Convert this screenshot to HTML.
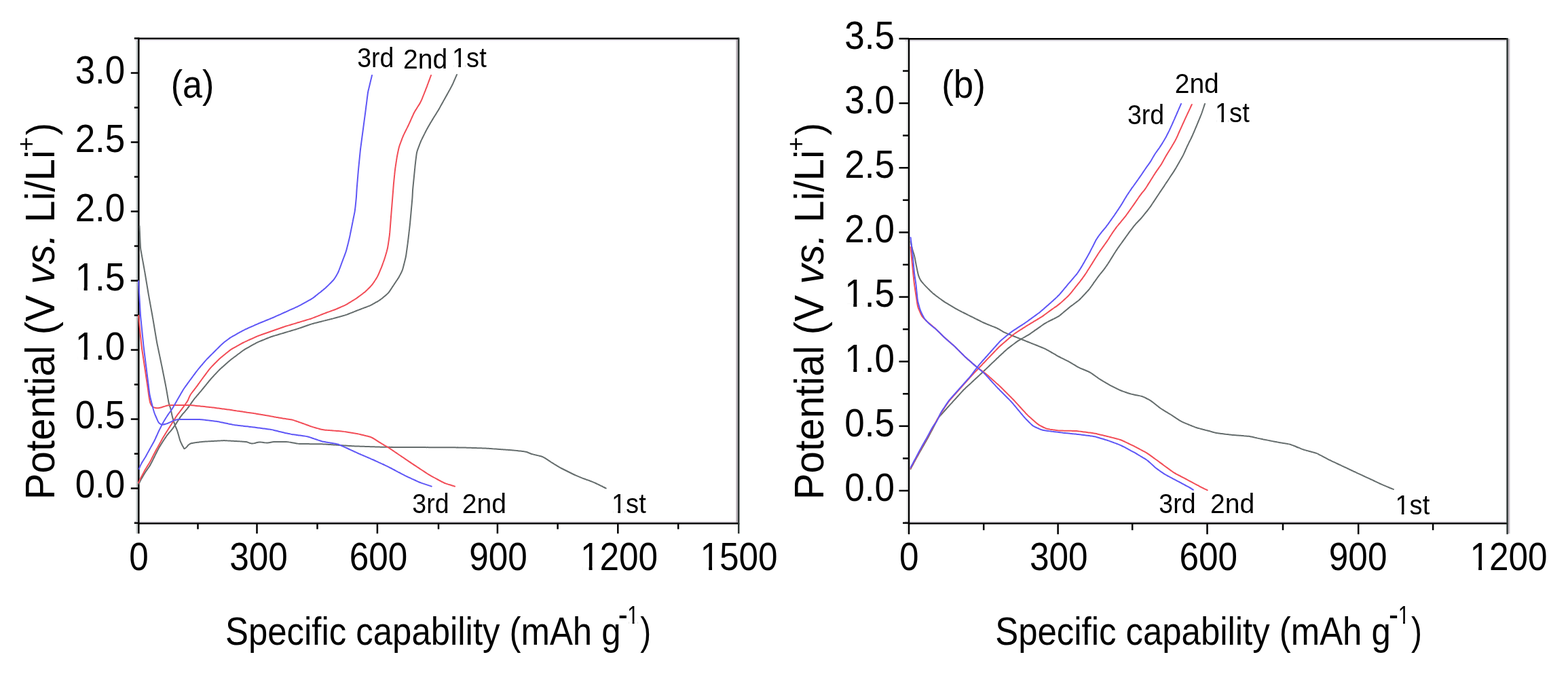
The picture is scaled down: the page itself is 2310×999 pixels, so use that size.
<!DOCTYPE html>
<html><head><meta charset="utf-8"><title>Potential vs specific capability</title>
<style>html,body{margin:0;padding:0;background:#fff;}svg{display:block;}text{font-family:'Liberation Sans', Arial, sans-serif;fill:#000;}</style>
</head><body>
<svg width="2310" height="999" viewBox="0 0 2310 999">
<rect width="2310" height="999" fill="#fff"/>
<line x1="201.7" y1="58" x2="201.7" y2="786.2" stroke="#c4caca" stroke-width="2.4"/>
<line x1="198.3" y1="59.2" x2="1086.8" y2="59.2" stroke="#dcd8e0" stroke-width="1.6"/>
<line x1="198.3" y1="768.8" x2="1086.8" y2="768.8" stroke="#d8d4dc" stroke-width="1.8"/>
<line x1="1085.6" y1="58" x2="1085.6" y2="770" stroke="#b4acb4" stroke-width="2.4"/>
<line x1="204.3" y1="56.8" x2="1088.2" y2="56.8" stroke="#000" stroke-width="2.5"/>
<line x1="204.3" y1="771.2" x2="1088.2" y2="771.2" stroke="#000" stroke-width="2.5"/>
<line x1="204.3" y1="55.6" x2="204.3" y2="772.4" stroke="#000" stroke-width="2.5"/>
<line x1="1088.2" y1="55.6" x2="1088.2" y2="772.4" stroke="#2c3432" stroke-width="2.5"/>
<line x1="197.8" y1="770.608" x2="204.3" y2="770.608" stroke="#000" stroke-width="2.5"/>
<line x1="192.8" y1="719.6" x2="204.3" y2="719.6" stroke="#000" stroke-width="2.5"/>
<line x1="197.8" y1="668.592" x2="204.3" y2="668.592" stroke="#000" stroke-width="2.5"/>
<line x1="192.8" y1="617.585" x2="204.3" y2="617.585" stroke="#000" stroke-width="2.5"/>
<line x1="197.8" y1="566.577" x2="204.3" y2="566.577" stroke="#000" stroke-width="2.5"/>
<line x1="192.8" y1="515.57" x2="204.3" y2="515.57" stroke="#000" stroke-width="2.5"/>
<line x1="197.8" y1="464.562" x2="204.3" y2="464.562" stroke="#000" stroke-width="2.5"/>
<line x1="192.8" y1="413.555" x2="204.3" y2="413.555" stroke="#000" stroke-width="2.5"/>
<line x1="197.8" y1="362.548" x2="204.3" y2="362.548" stroke="#000" stroke-width="2.5"/>
<line x1="192.8" y1="311.54" x2="204.3" y2="311.54" stroke="#000" stroke-width="2.5"/>
<line x1="197.8" y1="260.533" x2="204.3" y2="260.533" stroke="#000" stroke-width="2.5"/>
<line x1="192.8" y1="209.525" x2="204.3" y2="209.525" stroke="#000" stroke-width="2.5"/>
<line x1="197.8" y1="158.518" x2="204.3" y2="158.518" stroke="#000" stroke-width="2.5"/>
<line x1="192.8" y1="107.51" x2="204.3" y2="107.51" stroke="#000" stroke-width="2.5"/>
<line x1="197.8" y1="56.5025" x2="204.3" y2="56.5025" stroke="#000" stroke-width="2.5"/>
<line x1="204.3" y1="771.2" x2="204.3" y2="786.2" stroke="#000" stroke-width="2.5"/>
<line x1="291.5" y1="771.2" x2="291.5" y2="779.7" stroke="#000" stroke-width="2.5"/>
<line x1="378.5" y1="771.2" x2="378.5" y2="786.2" stroke="#000" stroke-width="2.5"/>
<line x1="467.5" y1="771.2" x2="467.5" y2="779.7" stroke="#000" stroke-width="2.5"/>
<line x1="555.9" y1="771.2" x2="555.9" y2="786.2" stroke="#000" stroke-width="2.5"/>
<line x1="646" y1="771.2" x2="646" y2="779.7" stroke="#000" stroke-width="2.5"/>
<line x1="732.9" y1="771.2" x2="732.9" y2="786.2" stroke="#000" stroke-width="2.5"/>
<line x1="821.6" y1="771.2" x2="821.6" y2="779.7" stroke="#000" stroke-width="2.5"/>
<line x1="910.3" y1="771.2" x2="910.3" y2="786.2" stroke="#000" stroke-width="2.5"/>
<line x1="999.2" y1="771.2" x2="999.2" y2="779.7" stroke="#000" stroke-width="2.5"/>
<line x1="1088.2" y1="771.2" x2="1088.2" y2="786.2" stroke="#2c3432" stroke-width="2.5"/>
<line x1="1336.4" y1="58.4" x2="1336.4" y2="786.2" stroke="#eef0ee" stroke-width="2.4"/>
<line x1="1333" y1="59.6" x2="2219.2" y2="59.6" stroke="#dcd8e0" stroke-width="1.6"/>
<line x1="1333" y1="768.8" x2="2219.2" y2="768.8" stroke="#d8d4dc" stroke-width="1.8"/>
<line x1="2223.2" y1="57.2" x2="2223.2" y2="786.2" stroke="#c4bcc4" stroke-width="2.4"/>
<line x1="1339" y1="57.2" x2="2220.6" y2="57.2" stroke="#000" stroke-width="2.5"/>
<line x1="1339" y1="771.2" x2="2220.6" y2="771.2" stroke="#000" stroke-width="2.5"/>
<line x1="1339" y1="56" x2="1339" y2="772.4" stroke="#000" stroke-width="2.5"/>
<line x1="2220.6" y1="56" x2="2220.6" y2="772.4" stroke="#2c3432" stroke-width="2.5"/>
<line x1="1330" y1="770.575" x2="1339" y2="770.575" stroke="#000" stroke-width="2.5"/>
<line x1="1324.5" y1="723" x2="1339" y2="723" stroke="#000" stroke-width="2.5"/>
<line x1="1330" y1="675.425" x2="1339" y2="675.425" stroke="#000" stroke-width="2.5"/>
<line x1="1324.5" y1="627.85" x2="1339" y2="627.85" stroke="#000" stroke-width="2.5"/>
<line x1="1330" y1="580.275" x2="1339" y2="580.275" stroke="#000" stroke-width="2.5"/>
<line x1="1324.5" y1="532.7" x2="1339" y2="532.7" stroke="#000" stroke-width="2.5"/>
<line x1="1330" y1="485.125" x2="1339" y2="485.125" stroke="#000" stroke-width="2.5"/>
<line x1="1324.5" y1="437.55" x2="1339" y2="437.55" stroke="#000" stroke-width="2.5"/>
<line x1="1330" y1="389.975" x2="1339" y2="389.975" stroke="#000" stroke-width="2.5"/>
<line x1="1324.5" y1="342.4" x2="1339" y2="342.4" stroke="#000" stroke-width="2.5"/>
<line x1="1330" y1="294.825" x2="1339" y2="294.825" stroke="#000" stroke-width="2.5"/>
<line x1="1324.5" y1="247.25" x2="1339" y2="247.25" stroke="#000" stroke-width="2.5"/>
<line x1="1330" y1="199.675" x2="1339" y2="199.675" stroke="#000" stroke-width="2.5"/>
<line x1="1324.5" y1="152.1" x2="1339" y2="152.1" stroke="#000" stroke-width="2.5"/>
<line x1="1330" y1="104.525" x2="1339" y2="104.525" stroke="#000" stroke-width="2.5"/>
<line x1="1324.5" y1="56.95" x2="1339" y2="56.95" stroke="#000" stroke-width="2.5"/>
<line x1="1339" y1="771.2" x2="1339" y2="787.2" stroke="#000" stroke-width="2.5"/>
<line x1="1449.2" y1="771.2" x2="1449.2" y2="781.2" stroke="#000" stroke-width="2.5"/>
<line x1="1558.6" y1="771.2" x2="1558.6" y2="787.2" stroke="#000" stroke-width="2.5"/>
<line x1="1668.2" y1="771.2" x2="1668.2" y2="781.2" stroke="#000" stroke-width="2.5"/>
<line x1="1778.5" y1="771.2" x2="1778.5" y2="787.2" stroke="#000" stroke-width="2.5"/>
<line x1="1890" y1="771.2" x2="1890" y2="781.2" stroke="#000" stroke-width="2.5"/>
<line x1="2001.2" y1="771.2" x2="2001.2" y2="787.2" stroke="#000" stroke-width="2.5"/>
<line x1="2111.1" y1="771.2" x2="2111.1" y2="781.2" stroke="#000" stroke-width="2.5"/>
<line x1="2220.6" y1="771.2" x2="2220.6" y2="787.2" stroke="#2c3432" stroke-width="2.5"/>
<path d="M205.5,333 C205.5,333.5 205.6,335.0 205.636,336 C205.7,337.0 205.7,338.0 205.773,339 C205.8,340.0 205.9,341.0 205.909,342 C206.0,343.0 206.0,344.0 206.045,345 C206.1,346.0 206.1,347.0 206.182,348 C206.2,349.0 206.3,350.0 206.318,351 C206.4,352.0 206.4,353.0 206.455,354 C206.5,355.0 206.5,356.0 206.591,357 C206.6,358.0 206.7,359.0 206.728,360 C206.8,361.0 206.8,362.0 206.88,363 C206.9,364.0 207.0,365.0 207.131,366 C207.2,367.0 207.4,368.0 207.562,369 C207.7,370.0 207.9,371.0 208.091,372 C208.3,373.0 208.5,374.0 208.636,375 C208.8,376.0 209.0,377.0 209.182,378 C209.4,379.0 209.5,380.0 209.727,381 C209.9,382.0 210.1,383.0 210.273,384 C210.5,385.0 210.6,386.0 210.818,387 C211.0,388.0 211.2,389.0 211.364,390 C211.5,391.0 211.7,392.0 211.909,393 C212.1,394.0 212.3,395.0 212.453,396 C212.6,397.0 212.8,398.0 212.985,399 C213.2,400.0 213.3,401.0 213.498,402 C213.7,403.0 213.8,404.0 214,405 C214.2,406.0 214.3,407.0 214.5,408 C214.7,409.0 214.8,410.0 215,411 C215.2,412.0 215.3,413.0 215.5,414 C215.7,415.0 215.8,416.0 216,417 C216.2,418.0 216.3,419.0 216.5,420 C216.7,421.0 216.8,422.0 217,423 C217.2,424.0 217.3,425.0 217.5,426 C217.7,427.0 217.8,428.0 218,429 C218.2,430.0 218.3,431.0 218.502,432 C218.7,433.0 218.8,434.0 219.015,435 C219.2,436.0 219.4,437.0 219.547,438 C219.7,439.0 219.9,440.0 220.091,441 C220.3,442.0 220.5,443.0 220.636,444 C220.8,445.0 221.0,446.0 221.182,447 C221.4,448.0 221.5,449.0 221.727,450 C221.9,451.0 222.1,452.0 222.273,453 C222.5,454.0 222.6,455.0 222.818,456 C223.0,457.0 223.2,458.0 223.364,459 C223.5,460.0 223.7,461.0 223.909,462 C224.1,463.0 224.3,464.0 224.453,465 C224.6,466.0 224.8,467.0 224.985,468 C225.2,469.0 225.3,470.0 225.498,471 C225.7,472.0 225.8,473.0 226,474 C226.2,475.0 226.3,476.0 226.5,477 C226.7,478.0 226.8,479.0 227,480 C227.2,481.0 227.3,482.0 227.5,483 C227.7,484.0 227.8,485.0 228,486 C228.2,487.0 228.3,488.0 228.5,489 C228.7,490.0 228.8,491.0 229,492 C229.2,493.0 229.3,494.0 229.5,495 C229.7,496.0 229.8,497.0 230,498 C230.2,499.0 230.3,500.0 230.505,501 C230.7,502.0 230.9,503.0 231.04,504 C231.2,505.0 231.4,506.0 231.63,507 C231.8,508.0 232.0,509.0 232.25,510 C232.5,511.0 232.7,512.0 232.875,513 C233.1,514.0 233.3,515.0 233.5,516 C233.7,517.0 233.9,518.0 234.125,519 C234.3,520.0 234.5,521.0 234.75,522 C235.0,523.0 235.2,524.0 235.375,525 C235.6,526.0 235.8,527.0 236,528 C236.2,529.0 236.4,530.0 236.625,531 C236.8,532.0 237.0,533.0 237.25,534 C237.5,535.0 237.7,536.0 237.874,537 C238.1,538.0 238.3,539.0 238.492,540 C238.7,541.0 238.9,542.0 239.099,543 C239.3,544.0 239.5,545.0 239.7,546 C239.9,547.0 240.1,548.0 240.3,549 C240.5,550.0 240.7,551.0 240.9,552 C241.1,553.0 241.3,554.0 241.5,555 C241.7,556.0 241.9,557.0 242.1,558 C242.3,559.0 242.5,560.0 242.7,561 C242.9,562.0 243.1,563.0 243.3,564 C243.5,565.0 243.7,566.0 243.897,567.002 C244.1,568.0 244.3,569.0 244.477,570.019 C244.7,571.0 244.8,572.0 245.027,573.061 C245.2,574.1 245.4,575.1 245.559,576.118 C245.7,577.1 245.9,578.2 246.088,579.176 C246.3,580.2 246.4,581.2 246.618,582.235 C246.8,583.3 247.0,584.3 247.147,585.294 C247.3,586.3 247.5,587.3 247.676,588.353 C247.9,589.4 248.0,590.4 248.22,591.421 C248.4,592.5 248.6,593.5 248.916,594.587 C249.2,595.7 249.6,596.9 250.016,598.025 C250.4,599.2 250.8,600.4 251.162,601.535 C251.5,602.7 251.7,603.8 251.962,604.868 C252.2,606.0 252.4,607.0 252.627,608.122 C252.9,609.2 253.1,610.3 253.303,611.328 C253.5,612.4 253.8,613.4 254.062,614.397 C254.3,615.4 254.6,616.4 254.902,617.33 C255.2,618.3 255.5,619.3 255.767,620.222 C256.1,621.2 256.3,622.1 256.651,623.116 C257.0,624.1 257.3,625.1 257.639,626.036 C258.0,627.0 258.4,628.0 258.817,629.004 C259.2,630.0 259.7,631.0 260.079,631.996 C260.5,633.0 260.9,634.0 261.233,634.968 C261.6,636.0 261.9,636.9 262.159,637.896 C262.4,638.9 262.7,639.8 262.959,640.8 C263.2,641.8 263.5,642.7 263.741,643.7 C264.0,644.7 264.3,645.6 264.549,646.609 C264.8,647.6 265.1,648.6 265.525,649.571 C265.9,650.6 266.3,651.6 266.811,652.624 C267.3,653.6 267.8,654.7 268.296,655.672 C268.8,656.7 269.3,657.6 269.904,658.543 C270.5,659.5 270.8,661.2 271.625,661.2 C272.5,661.2 274.1,659.5 275.009,658.6 C275.9,657.7 276.4,656.8 277.147,656.089 C277.9,655.3 278.8,654.6 279.732,654.095 C280.6,653.6 281.6,653.3 282.598,653.053 C283.6,652.8 284.6,652.7 285.564,652.53 C286.6,652.4 287.6,652.2 288.545,652.091 C289.5,651.9 290.5,651.8 291.528,651.657 C292.5,651.5 293.5,651.4 294.523,651.252 C295.5,651.1 296.5,651.0 297.56,650.942 C298.6,650.9 299.6,650.8 300.637,650.73 C301.7,650.7 302.7,650.6 303.727,650.545 C304.8,650.5 305.8,650.4 306.818,650.364 C307.8,650.3 308.9,650.2 309.909,650.182 C310.9,650.1 312.0,650.1 313,650 C314.0,649.9 315.1,649.9 316.091,649.818 C317.1,649.8 318.2,649.7 319.182,649.636 C320.2,649.6 321.2,649.5 322.273,649.455 C323.3,649.4 324.3,649.3 325.364,649.276 C326.4,649.2 327.4,649.2 328.455,649.139 C329.5,649.1 330.5,649.1 331.545,649.139 C332.6,649.2 333.6,649.2 334.636,649.276 C335.7,649.3 336.7,649.4 337.727,649.455 C338.8,649.5 339.8,649.6 340.818,649.636 C341.8,649.7 342.9,649.8 343.909,649.818 C344.9,649.9 346.0,649.9 347,650 C348.0,650.1 349.1,650.1 350.091,650.182 C351.1,650.2 352.2,650.3 353.182,650.364 C354.2,650.4 355.2,650.5 356.273,650.545 C357.3,650.6 358.3,650.7 359.363,650.74 C360.4,650.8 361.4,650.9 362.443,651.082 C363.5,651.3 364.5,651.6 365.497,651.909 C366.5,652.2 367.5,652.8 368.621,653.051 C369.7,653.3 370.9,653.6 372,653.606 C373.1,653.6 374.3,653.3 375.38,653.057 C376.5,652.8 377.5,652.3 378.517,651.985 C379.6,651.7 380.6,651.5 381.626,651.449 C382.7,651.4 383.7,651.5 384.802,651.618 C385.9,651.7 386.9,651.9 388,652 C389.1,652.1 390.1,652.3 391.208,652.377 C392.3,652.5 393.4,652.6 394.496,652.504 C395.6,652.4 396.8,652.2 397.974,651.948 C399.1,651.7 400.3,651.4 401.376,651.24 C402.5,651.1 403.5,651.1 404.491,651.019 C405.5,651.0 406.5,651.0 407.5,651 C408.5,651.0 409.5,651.0 410.5,651 C411.5,651.0 412.5,651.0 413.5,651 C414.5,651.0 415.5,651.0 416.5,651 C417.5,651.0 418.5,651.0 419.502,651.006 C420.5,651.0 421.5,651.0 422.526,651.079 C423.5,651.1 424.6,651.2 425.626,651.379 C426.7,651.5 427.7,651.7 428.802,651.906 C429.9,652.1 430.9,652.3 432,652.5 C433.1,652.7 434.1,652.9 435.199,653.095 C436.3,653.3 437.3,653.5 438.379,653.625 C439.4,653.8 440.5,653.9 441.501,653.938 C442.5,654.0 443.5,654.0 444.564,654.034 C445.6,654.1 446.6,654.1 447.609,654.065 C448.6,654.1 449.6,654.1 450.652,654.091 C451.7,654.1 452.7,654.1 453.696,654.117 C454.7,654.1 455.7,654.1 456.739,654.143 C457.8,654.2 458.8,654.2 459.783,654.17 C460.8,654.2 461.8,654.2 462.826,654.196 C463.8,654.2 464.9,654.2 465.87,654.222 C466.9,654.2 467.9,654.2 468.913,654.248 C469.9,654.3 470.9,654.3 471.955,654.281 C473.0,654.3 474.0,654.3 474.986,654.356 C476.0,654.4 477.0,654.4 477.998,654.507 C479.0,654.6 480.0,654.6 481,654.7 C482.0,654.8 483.0,654.8 484,654.9 C485.0,655.0 486.0,655.0 487,655.1 C488.0,655.2 489.0,655.2 490,655.3 C491.0,655.4 492.0,655.4 493,655.5 C494.0,655.6 495.0,655.6 496,655.7 C497.0,655.8 498.0,655.8 499,655.9 C500.0,656.0 501.0,656.0 502,656.1 C503.0,656.2 504.0,656.2 505,656.3 C506.0,656.4 507.0,656.4 508,656.5 C509.0,656.6 510.0,656.6 511,656.7 C512.0,656.8 513.0,656.8 514,656.9 C515.0,657.0 516.0,657.0 517,657.096 C518.0,657.2 519.0,657.2 520,657.268 C521.0,657.3 522.0,657.4 523,657.396 C524.0,657.4 525.0,657.5 526,657.5 C527.0,657.5 528.0,657.6 529,657.6 C530.0,657.6 531.0,657.7 532,657.7 C533.0,657.7 534.0,657.8 535,657.8 C536.0,657.8 537.0,657.9 538,657.9 C539.0,657.9 540.0,658.0 541,658 C542.0,658.0 543.0,658.1 544,658.1 C545.0,658.1 546.0,658.2 547,658.2 C548.0,658.2 549.0,658.3 550,658.3 C551.0,658.3 552.0,658.4 553,658.4 C554.0,658.4 555.0,658.5 556,658.5 C557.0,658.5 558.0,658.6 559,658.6 C560.0,658.6 561.0,658.7 562.001,658.697 C563.0,658.7 564.0,658.8 565.008,658.773 C566.0,658.8 567.0,658.8 568.027,658.812 C569.0,658.8 570.0,658.8 571.053,658.831 C572.1,658.8 573.1,658.8 574.079,658.847 C575.1,658.9 576.1,658.9 577.105,658.863 C578.1,658.9 579.1,658.9 580.132,658.879 C581.1,658.9 582.1,658.9 583.158,658.895 C584.2,658.9 585.2,658.9 586.184,658.911 C587.2,658.9 588.2,658.9 589.211,658.926 C590.2,658.9 591.2,658.9 592.237,658.942 C593.2,658.9 594.3,659.0 595.263,658.958 C596.3,659.0 597.3,659.0 598.289,658.974 C599.3,659.0 600.3,659.0 601.316,658.989 C602.3,659.0 603.3,659.0 604.342,659.005 C605.4,659.0 606.4,659.0 607.368,659.021 C608.4,659.0 609.4,659.0 610.395,659.037 C611.4,659.0 612.4,659.0 613.421,659.053 C614.4,659.1 615.4,659.1 616.447,659.068 C617.5,659.1 618.5,659.1 619.474,659.084 C620.5,659.1 621.5,659.1 622.5,659.1 C623.5,659.1 624.5,659.1 625.526,659.116 C626.5,659.1 627.5,659.1 628.553,659.132 C629.6,659.1 630.6,659.1 631.579,659.147 C632.6,659.2 633.6,659.2 634.605,659.163 C635.6,659.2 636.6,659.2 637.632,659.179 C638.6,659.2 639.6,659.2 640.658,659.195 C641.7,659.2 642.7,659.2 643.684,659.211 C644.7,659.2 645.7,659.2 646.711,659.226 C647.7,659.2 648.7,659.2 649.737,659.242 C650.7,659.2 651.8,659.3 652.763,659.258 C653.8,659.3 654.8,659.3 655.789,659.274 C656.8,659.3 657.8,659.3 658.816,659.289 C659.8,659.3 660.8,659.3 661.842,659.305 C662.9,659.3 663.9,659.3 664.868,659.321 C665.9,659.3 666.9,659.3 667.895,659.337 C668.9,659.3 669.9,659.3 670.921,659.353 C671.9,659.4 672.9,659.4 673.947,659.369 C675.0,659.4 676.0,659.4 676.976,659.388 C678.0,659.4 679.0,659.4 680.018,659.427 C681.0,659.4 682.1,659.5 683.086,659.503 C684.1,659.5 685.1,659.6 686.167,659.6 C687.2,659.6 688.2,659.7 689.25,659.7 C690.3,659.7 691.3,659.8 692.333,659.8 C693.4,659.8 694.4,659.9 695.417,659.9 C696.4,659.9 697.5,660.0 698.5,660 C699.5,660.0 700.6,660.1 701.583,660.1 C702.6,660.1 703.6,660.2 704.667,660.2 C705.7,660.2 706.7,660.3 707.75,660.3 C708.8,660.3 709.8,660.4 710.833,660.4 C711.9,660.4 712.9,660.5 713.916,660.505 C714.9,660.5 716.0,660.6 716.998,660.64 C718.0,660.7 719.1,660.8 720.077,660.828 C721.1,660.9 722.1,661.0 723.154,661.046 C724.2,661.1 725.2,661.2 726.231,661.269 C727.3,661.3 728.3,661.4 729.308,661.492 C730.3,661.6 731.4,661.6 732.385,661.715 C733.4,661.8 734.4,661.9 735.462,661.938 C736.5,662.0 737.5,662.1 738.538,662.162 C739.6,662.2 740.6,662.3 741.615,662.385 C742.6,662.5 743.7,662.5 744.692,662.608 C745.7,662.7 746.7,662.8 747.769,662.831 C748.8,662.9 749.8,663.0 750.846,663.054 C751.9,663.1 752.9,663.2 753.927,663.283 C755.0,663.4 756.0,663.4 757.029,663.546 C758.1,663.6 759.1,663.8 760.17,663.873 C761.2,664.0 762.3,664.1 763.333,664.234 C764.4,664.4 765.4,664.5 766.5,664.6 C767.6,664.7 768.6,664.8 769.666,664.968 C770.7,665.1 771.8,665.2 772.826,665.38 C773.9,665.6 774.9,665.8 775.946,666.063 C777.0,666.4 778.0,666.8 778.993,667.214 C780.0,667.6 781.0,668.1 782,668.45 C783.0,668.8 784.0,669.1 785,669.384 C786.0,669.7 787.0,669.9 788,670.132 C789.0,670.4 790.0,670.6 791,670.85 C792.0,671.1 793.0,671.3 794,671.568 C795.0,671.8 796.0,672.0 796.986,672.327 C798.0,672.6 798.9,672.9 799.893,673.341 C800.8,673.8 801.7,674.3 802.653,674.821 C803.6,675.4 804.4,676.0 805.333,676.557 C806.2,677.1 807.1,677.7 808,678.332 C808.9,678.9 809.8,679.5 810.667,680.097 C811.6,680.7 812.4,681.3 813.333,681.819 C814.2,682.4 815.1,682.9 816,683.499 C816.9,684.1 817.8,684.6 818.667,685.166 C819.6,685.7 820.4,686.3 821.347,686.826 C822.3,687.4 823.2,687.9 824.107,688.446 C825.1,689.0 826.0,689.5 827.014,689.993 C828.0,690.5 829.0,691.0 830,691.5 C831.0,692.0 832.0,692.5 833,693 C834.0,693.5 835.0,694.0 836,694.5 C837.0,695.0 838.0,695.5 839,696 C840.0,696.5 841.0,697.0 842,697.5 C843.0,698.0 844.0,698.5 845,698.988 C846.0,699.5 847.0,700.0 848,700.404 C849.0,700.9 850.0,701.3 851,701.688 C852.0,702.1 853.0,702.5 854,702.899 C855.0,703.3 856.0,703.7 857,704.094 C858.0,704.5 859.0,704.9 860,705.252 C861.0,705.6 862.0,706.0 863,706.344 C864.0,706.7 865.0,707.0 866,707.4 C867.0,707.8 868.0,708.1 869,708.463 C870.0,708.8 871.0,709.2 872,709.604 C873.0,710.0 874.0,710.4 875,710.888 C876.0,711.3 877.0,711.8 878,712.251 C879.0,712.7 880.0,713.2 880.996,713.63 C882.0,714.1 883.0,714.6 883.968,715.04 C885.0,715.5 885.9,716.0 886.896,716.505 C887.9,717.0 888.8,717.5 889.8,718 C890.8,718.5 892.2,719.2 892.7,719.5" fill="none" stroke="#646c6c" stroke-width="2.0" stroke-linejoin="round" stroke-linecap="round"/>
<path d="M204.5,713 C204.7,712.5 205.4,711.1 205.9,710.2 C206.4,709.3 206.8,708.3 207.328,707.406 C207.8,706.5 208.3,705.6 208.842,704.632 C209.4,703.7 209.9,702.8 210.44,701.875 C211.0,701.0 211.5,700.0 212.065,699.127 C212.6,698.2 213.2,697.3 213.718,696.398 C214.3,695.5 214.9,694.6 215.459,693.738 C216.1,692.9 216.7,692.0 217.287,691.144 C217.9,690.3 218.5,689.4 219.126,688.558 C219.7,687.7 220.3,686.8 220.867,685.898 C221.4,685.0 221.9,684.0 222.427,683.098 C222.9,682.2 223.4,681.2 223.888,680.222 C224.4,679.3 224.9,678.3 225.333,677.333 C225.8,676.4 226.3,675.4 226.778,674.444 C227.3,673.5 227.7,672.5 228.222,671.556 C228.7,670.6 229.2,669.6 229.667,668.667 C230.1,667.7 230.6,666.7 231.111,665.778 C231.6,664.8 232.1,663.8 232.564,662.9 C233.1,662.0 233.6,661.0 234.066,660.085 C234.6,659.2 235.1,658.3 235.658,657.386 C236.2,656.5 236.8,655.6 237.301,654.75 C237.9,653.9 238.4,653.0 238.957,652.121 C239.5,651.2 240.1,650.4 240.657,649.471 C241.2,648.6 241.8,647.7 242.436,646.782 C243.0,645.9 243.6,645.0 244.261,644.074 C244.9,643.2 245.5,642.3 246.134,641.39 C246.8,640.5 247.5,639.6 248.149,638.799 C248.8,638.0 249.6,637.1 250.3,636.301 C251.0,635.5 251.8,634.7 252.451,633.812 C253.1,633.0 253.8,632.1 254.466,631.264 C255.1,630.4 255.7,629.5 256.339,628.656 C257.0,627.8 257.6,626.9 258.164,626.03 C258.8,625.2 259.4,624.3 259.943,623.409 C260.5,622.5 261.1,621.7 261.643,620.801 C262.2,619.9 262.7,619.1 263.3,618.2 C263.9,617.3 264.4,616.5 264.965,615.612 C265.5,614.8 266.1,613.9 266.72,613.093 C267.3,612.3 268.0,611.5 268.638,610.701 C269.3,609.9 270.0,609.2 270.645,608.378 C271.3,607.6 272.0,606.8 272.665,606.063 C273.3,605.3 274.0,604.5 274.669,603.71 C275.3,602.9 276.0,602.1 276.617,601.228 C277.3,600.4 277.9,599.5 278.508,598.615 C279.1,597.7 279.8,596.8 280.382,595.964 C281.0,595.1 281.6,594.2 282.255,593.31 C282.9,592.4 283.5,591.5 284.133,590.668 C284.8,589.8 285.4,588.9 286.041,588.103 C286.7,587.3 287.3,586.5 288.005,585.68 C288.7,584.9 289.3,584.1 290,583.334 C290.7,582.6 291.3,581.8 292,581 C292.7,580.2 293.3,579.4 294,578.666 C294.7,577.9 295.3,577.1 296,576.326 C296.7,575.5 297.3,574.8 298,573.946 C298.7,573.1 299.3,572.3 300,571.493 C300.7,570.7 301.3,569.8 302,569 C302.7,568.2 303.3,567.3 304,566.5 C304.7,565.7 305.3,564.8 306,564 C306.7,563.2 307.3,562.3 308.006,561.508 C308.7,560.7 309.4,559.9 310.049,559.062 C310.7,558.3 311.5,557.5 312.16,556.7 C312.9,555.9 313.6,555.2 314.308,554.385 C315.0,553.6 315.7,552.8 316.462,552.077 C317.2,551.3 317.9,550.5 318.615,549.769 C319.3,549.0 320.0,548.2 320.77,547.464 C321.5,546.7 322.2,545.9 322.94,545.194 C323.7,544.5 324.4,543.7 325.16,543.04 C325.9,542.3 326.7,541.7 327.43,541.003 C328.2,540.3 329.0,539.7 329.714,539 C330.5,538.3 331.2,537.7 332,537 C332.8,536.3 333.5,535.7 334.286,535 C335.0,534.3 335.8,533.7 336.573,533.001 C337.3,532.3 338.1,531.7 338.885,531.016 C339.7,530.4 340.5,529.7 341.278,529.079 C342.1,528.4 342.9,527.8 343.752,527.189 C344.6,526.6 345.4,525.9 346.25,525.312 C347.1,524.7 347.9,524.1 348.75,523.438 C349.6,522.8 350.4,522.2 351.25,521.563 C352.1,520.9 352.9,520.3 353.75,519.687 C354.6,519.1 355.4,518.4 356.252,517.816 C357.1,517.2 357.9,516.6 358.772,515.991 C359.6,515.4 360.5,514.9 361.355,514.32 C362.2,513.8 363.1,513.3 364.002,512.804 C364.9,512.3 365.8,511.8 366.667,511.333 C367.6,510.8 368.4,510.4 369.333,509.867 C370.2,509.4 371.1,508.9 372,508.4 C372.9,507.9 373.8,507.4 374.667,506.934 C375.6,506.4 376.4,506.0 377.341,505.48 C378.2,505.0 379.1,504.5 380.061,504.104 C381.0,503.7 381.9,503.3 382.865,502.87 C383.8,502.5 384.8,502.1 385.715,501.715 C386.7,501.3 387.6,501.0 388.571,500.571 C389.5,500.2 390.5,499.8 391.429,499.429 C392.4,499.0 393.3,498.7 394.286,498.286 C395.2,497.9 396.2,497.5 397.152,497.152 C398.1,496.8 399.1,496.4 400.071,496.071 C401.1,495.7 402.1,495.4 403.086,495.086 C404.1,494.8 405.1,494.5 406.154,494.154 C407.2,493.8 408.2,493.5 409.231,493.231 C410.3,492.9 411.3,492.6 412.308,492.308 C413.3,492.0 414.4,491.7 415.385,491.385 C416.4,491.1 417.4,490.8 418.462,490.462 C419.5,490.2 420.5,489.8 421.538,489.538 C422.6,489.2 423.6,488.9 424.615,488.615 C425.6,488.3 426.7,488.0 427.692,487.692 C428.7,487.4 429.7,487.1 430.769,486.769 C431.8,486.5 432.8,486.2 433.846,485.846 C434.9,485.5 435.9,485.2 436.914,484.92 C437.9,484.6 438.9,484.3 439.929,483.975 C440.9,483.7 441.9,483.3 442.848,482.997 C443.8,482.7 444.8,482.3 445.714,482 C446.7,481.7 447.6,481.3 448.571,481 C449.5,480.7 450.5,480.3 451.429,480 C452.4,479.7 453.3,479.3 454.286,479 C455.2,478.7 456.2,478.3 457.152,478.009 C458.1,477.7 459.1,477.4 460.071,477.074 C461.1,476.8 462.1,476.5 463.086,476.24 C464.1,476.0 465.1,475.7 466.154,475.462 C467.2,475.2 468.2,474.9 469.231,474.692 C470.3,474.4 471.3,474.2 472.308,473.923 C473.3,473.7 474.4,473.4 475.384,473.154 C476.4,472.9 477.4,472.6 478.451,472.387 C479.5,472.1 480.5,471.9 481.49,471.628 C482.5,471.4 483.5,471.1 484.499,470.875 C485.5,470.6 486.5,470.4 487.5,470.124 C488.5,469.9 489.5,469.6 490.5,469.364 C491.5,469.1 492.5,468.8 493.5,468.572 C494.5,468.3 495.5,468.0 496.5,467.749 C497.5,467.5 498.5,467.2 499.5,466.917 C500.5,466.6 501.5,466.4 502.5,466.083 C503.5,465.8 504.5,465.5 505.499,465.247 C506.5,465.0 507.5,464.7 508.481,464.376 C509.5,464.1 510.4,463.7 511.41,463.388 C512.4,463.0 513.3,462.7 514.284,462.283 C515.2,461.9 516.2,461.5 517.143,461.143 C518.1,460.8 519.0,460.4 520,460 C521.0,459.6 521.9,459.2 522.857,458.857 C523.8,458.5 524.8,458.1 525.715,457.715 C526.7,457.3 527.6,457.0 528.578,456.578 C529.5,456.2 530.5,455.8 531.461,455.461 C532.4,455.1 533.4,454.7 534.364,454.364 C535.3,454.0 536.3,453.6 537.273,453.273 C538.2,452.9 539.2,452.5 540.182,452.181 C541.2,451.8 542.1,451.5 543.086,451.07 C544.1,450.7 545.0,450.3 545.965,449.836 C546.9,449.4 547.9,448.9 548.796,448.379 C549.7,447.9 550.7,447.3 551.6,446.799 C552.5,446.3 553.5,445.7 554.399,445.199 C555.3,444.7 556.3,444.1 557.184,443.584 C558.1,443.0 559.0,442.5 559.871,441.871 C560.7,441.3 561.6,440.6 562.384,439.984 C563.2,439.3 564.0,438.7 564.799,437.999 C565.6,437.3 566.4,436.7 567.199,435.999 C568.0,435.3 568.8,434.7 569.574,433.973 C570.3,433.3 571.1,432.6 571.8,431.786 C572.5,431.0 573.1,430.2 573.752,429.306 C574.4,428.5 575.0,427.6 575.555,426.666 C576.2,425.8 576.7,424.9 577.333,424 C577.9,423.1 578.5,422.2 579.111,421.333 C579.7,420.4 580.3,419.6 580.889,418.667 C581.5,417.8 582.1,416.9 582.667,416 C583.3,415.1 583.9,414.2 584.444,413.333 C585.0,412.4 585.6,411.6 586.208,410.659 C586.8,409.8 587.4,408.9 587.888,407.939 C588.4,407.0 588.9,406.1 589.414,405.135 C589.9,404.2 590.4,403.2 590.85,402.283 C591.3,401.3 591.8,400.4 592.199,399.4 C592.6,398.4 593.0,397.4 593.298,396.433 C593.6,395.4 593.9,394.4 594.148,393.383 C594.4,392.4 594.7,391.3 594.923,390.308 C595.2,389.3 595.4,388.3 595.692,387.231 C595.9,386.2 596.2,385.2 596.461,384.154 C596.7,383.1 597.0,382.1 597.217,381.074 C597.5,380.0 597.7,379.0 597.891,377.979 C598.1,376.9 598.3,375.9 598.415,374.854 C598.6,373.8 598.7,372.8 598.857,371.714 C599.0,370.7 599.1,369.6 599.286,368.571 C599.4,367.5 599.6,366.5 599.714,365.429 C599.9,364.4 600.0,363.3 600.143,362.286 C600.3,361.2 600.4,360.2 600.568,359.146 C600.7,358.1 600.8,357.1 600.976,356.027 C601.1,355.0 601.2,354.0 601.35,352.945 C601.5,351.9 601.6,350.9 601.706,349.882 C601.8,348.9 601.9,347.8 602.059,346.824 C602.2,345.8 602.3,344.8 602.412,343.765 C602.5,342.7 602.6,341.7 602.765,340.706 C602.9,339.7 603.0,338.7 603.118,337.647 C603.2,336.6 603.4,335.6 603.47,334.587 C603.6,333.6 603.7,332.5 603.815,331.518 C603.9,330.5 604.0,329.5 604.134,328.418 C604.2,327.4 604.3,326.3 604.428,325.285 C604.5,324.2 604.6,323.2 604.714,322.143 C604.8,321.1 604.9,320.0 605,319 C605.1,318.0 605.2,316.9 605.286,315.857 C605.4,314.8 605.5,313.8 605.571,312.716 C605.7,311.7 605.8,310.6 605.855,309.59 C605.9,308.6 606.0,307.5 606.131,306.519 C606.2,305.5 606.3,304.5 606.4,303.501 C606.5,302.5 606.6,301.5 606.667,300.5 C606.8,299.5 606.8,298.5 606.933,297.5 C607.0,296.5 607.1,295.5 607.199,294.497 C607.3,293.5 607.4,292.5 607.449,291.456 C607.5,290.4 607.6,289.4 607.649,288.29 C607.7,287.2 607.7,286.1 607.8,284.999 C607.9,283.9 607.9,282.8 607.956,281.7 C608.0,280.6 608.1,279.5 608.177,278.495 C608.3,277.4 608.4,276.4 608.463,275.387 C608.6,274.4 608.7,273.3 608.769,272.308 C608.9,271.3 609.0,270.3 609.077,269.231 C609.2,268.2 609.3,267.2 609.385,266.154 C609.5,265.1 609.6,264.1 609.692,263.077 C609.8,262.1 609.9,261.0 610,260 C610.1,259.0 610.2,257.9 610.308,256.923 C610.4,255.9 610.5,254.9 610.615,253.846 C610.7,252.8 610.8,251.8 610.923,250.769 C611.0,249.7 611.1,248.7 611.231,247.692 C611.3,246.7 611.4,245.6 611.539,244.614 C611.6,243.6 611.7,242.6 611.858,241.522 C612.0,240.5 612.1,239.4 612.212,238.384 C612.3,237.3 612.5,236.3 612.601,235.199 C612.7,234.1 612.9,233.1 613,232 C613.1,230.9 613.3,229.9 613.406,228.803 C613.6,227.7 613.7,226.7 613.891,225.638 C614.1,224.6 614.3,223.6 614.636,222.584 C614.9,221.6 615.3,220.6 615.643,219.639 C616.0,218.7 616.4,217.7 616.727,216.727 C617.1,215.8 617.5,214.8 617.819,213.818 C618.2,212.8 618.5,211.9 618.924,210.909 C619.3,209.9 619.7,209.0 620.117,208 C620.5,207.0 621.0,206.1 621.47,205.091 C621.9,204.1 622.4,203.2 622.91,202.182 C623.4,201.2 623.9,200.2 624.364,199.273 C624.8,198.3 625.3,197.3 625.82,196.365 C626.3,195.4 626.8,194.4 627.292,193.469 C627.8,192.5 628.3,191.6 628.819,190.614 C629.3,189.7 629.9,188.7 630.401,187.801 C630.9,186.9 631.5,185.9 632,185 C632.5,184.1 633.1,183.1 633.601,182.201 C634.1,181.3 634.7,180.3 635.209,179.417 C635.7,178.5 636.3,177.6 636.842,176.684 C637.4,175.8 637.9,174.9 638.501,174.001 C639.1,173.1 639.6,172.2 640.167,171.333 C640.7,170.4 641.3,169.6 641.833,168.667 C642.4,167.8 642.9,166.9 643.499,165.999 C644.1,165.1 644.6,164.2 645.15,163.32 C645.7,162.4 646.2,161.5 646.752,160.602 C647.3,159.7 647.8,158.8 648.306,157.845 C648.8,156.9 649.3,156.0 649.846,155.077 C650.4,154.2 650.9,153.2 651.385,152.308 C651.9,151.4 652.4,150.5 652.923,149.538 C653.4,148.6 653.9,147.7 654.462,146.769 C655.0,145.8 655.5,144.9 656,144 C656.5,143.1 657.0,142.2 657.538,141.231 C658.1,140.3 658.6,139.4 659.077,138.462 C659.6,137.5 660.1,136.6 660.615,135.692 C661.1,134.8 661.6,133.8 662.154,132.923 C662.7,132.0 663.2,131.1 663.69,130.153 C664.2,129.2 664.7,128.3 665.196,127.366 C665.7,126.4 666.1,125.5 666.601,124.527 C667.1,123.6 667.5,122.6 667.907,121.635 C668.3,120.7 668.8,119.7 669.182,118.727 C669.6,117.8 670.0,116.8 670.455,115.818 C670.9,114.8 671.3,113.9 671.727,112.909 C672.2,111.9 672.8,110.5 673,110" fill="none" stroke="#646c6c" stroke-width="2.0" stroke-linejoin="round" stroke-linecap="round"/>
<path d="M204,465 C204.1,465.5 204.2,467.0 204.3,468 C204.4,469.0 204.5,470.0 204.6,471 C204.7,472.0 204.8,473.0 204.9,474 C205.0,475.0 205.1,476.0 205.2,477 C205.3,478.0 205.4,479.0 205.5,480 C205.6,481.0 205.7,482.0 205.8,483 C205.9,484.0 206.0,485.0 206.1,486 C206.2,487.0 206.3,488.0 206.4,489 C206.5,490.0 206.6,491.0 206.7,492 C206.8,493.0 206.9,494.0 207,495 C207.1,496.0 207.2,497.0 207.3,498 C207.4,499.0 207.5,500.0 207.6,501 C207.7,502.0 207.8,503.0 207.9,504 C208.0,505.0 208.1,506.0 208.206,507 C208.3,508.0 208.4,509.0 208.548,510 C208.7,511.0 208.8,512.0 208.956,513 C209.1,514.0 209.3,515.0 209.4,516 C209.5,517.0 209.7,518.0 209.85,519 C210.0,520.0 210.2,521.0 210.3,522 C210.5,523.0 210.6,524.0 210.75,525 C210.9,526.0 211.0,527.0 211.2,528 C211.3,529.0 211.5,530.0 211.65,531 C211.8,532.0 212.0,533.0 212.1,534 C212.3,535.0 212.4,536.0 212.55,537 C212.7,538.0 212.8,539.0 213,540 C213.2,541.0 213.3,542.0 213.45,543 C213.6,544.0 213.8,545.0 213.9,546 C214.1,547.0 214.2,548.0 214.35,549 C214.5,550.0 214.7,551.0 214.8,552 C215.0,553.0 215.1,554.0 215.25,555 C215.4,556.0 215.5,557.0 215.7,558 C215.8,559.0 216.0,560.0 216.15,561 C216.3,562.0 216.5,563.0 216.6,564 C216.7,565.0 216.9,566.0 217.049,567 C217.2,568.0 217.3,569.0 217.489,570 C217.6,571.0 217.8,572.0 217.915,573 C218.1,574.0 218.2,575.0 218.333,576 C218.5,577.0 218.6,578.0 218.75,579 C218.9,580.0 219.0,581.0 219.167,582 C219.3,583.0 219.4,584.0 219.594,585 C219.7,586.0 219.9,587.0 220.08,588 C220.3,589.0 220.5,590.0 220.68,590.999 C220.9,592.0 221.0,592.8 221.416,593.959 C221.9,595.1 222.7,596.9 223.467,597.933 C224.2,598.9 225.1,599.5 226,600 C226.9,600.5 227.8,600.8 229,601 C230.2,601.2 232.0,601.4 233.443,601.295 C234.9,601.2 236.6,600.5 237.818,600.179 C239.0,599.8 239.8,599.6 240.727,599.273 C241.7,599.0 242.7,598.7 243.638,598.372 C244.6,598.1 245.6,597.8 246.564,597.574 C247.5,597.4 248.5,597.2 249.542,597.119 C250.5,597.0 251.6,597.0 252.573,597.009 C253.6,597.0 254.6,597.0 255.619,597 C256.6,597.0 257.7,597.0 258.667,597 C259.7,597.0 260.7,597.0 261.714,597 C262.7,597.0 263.7,597.0 264.762,597 C265.8,597.0 266.8,597.0 267.81,597 C268.8,597.0 269.8,597.0 270.857,597 C271.9,597.0 272.9,597.0 273.905,597 C274.9,597.0 275.9,597.0 276.95,597.012 C278.0,597.0 279.0,597.0 279.985,597.096 C281.0,597.1 282.0,597.2 282.998,597.312 C284.0,597.4 285.0,597.5 286,597.6 C287.0,597.7 288.0,597.8 289,597.9 C290.0,598.0 291.0,598.1 292,598.2 C293.0,598.3 294.0,598.4 295,598.5 C296.0,598.6 297.0,598.7 298,598.8 C299.0,598.9 300.0,599.0 301,599.1 C302.0,599.2 303.0,599.3 304,599.4 C305.0,599.5 306.0,599.6 307,599.704 C308.0,599.8 309.0,599.9 310,600.032 C311.0,600.1 312.0,600.3 313,600.404 C314.0,600.5 315.0,600.7 316,600.8 C317.0,600.9 318.0,601.1 319,601.2 C320.0,601.3 321.0,601.5 322,601.6 C323.0,601.7 324.0,601.9 325,602 C326.0,602.1 327.0,602.3 328,602.4 C329.0,602.5 330.0,602.7 331,602.8 C332.0,602.9 333.0,603.1 334,603.2 C335.0,603.3 336.0,603.5 337.003,603.603 C338.0,603.7 339.0,603.9 340.025,604.02 C341.0,604.2 342.1,604.3 343.08,604.464 C344.1,604.6 345.1,604.8 346.154,604.923 C347.2,605.1 348.2,605.2 349.231,605.385 C350.3,605.5 351.3,605.7 352.308,605.846 C353.3,606.0 354.4,606.2 355.385,606.308 C356.4,606.5 357.4,606.6 358.462,606.769 C359.5,606.9 360.5,607.1 361.538,607.231 C362.6,607.4 363.6,607.5 364.615,607.692 C365.6,607.8 366.7,608.0 367.692,608.154 C368.7,608.3 369.7,608.5 370.769,608.615 C371.8,608.8 372.8,608.9 373.846,609.077 C374.9,609.2 375.9,609.4 376.918,609.541 C377.9,609.7 379.0,609.9 379.963,610.018 C381.0,610.2 382.0,610.4 382.958,610.521 C384.0,610.7 384.9,610.9 385.926,611.037 C386.9,611.2 387.9,611.4 388.889,611.556 C389.9,611.7 390.9,611.9 391.852,612.074 C392.8,612.2 393.8,612.4 394.815,612.593 C395.8,612.8 396.8,612.9 397.778,613.111 C398.8,613.3 399.8,613.5 400.741,613.63 C401.7,613.8 402.7,614.0 403.704,614.148 C404.7,614.3 405.7,614.5 406.667,614.667 C407.7,614.8 408.6,615.0 409.63,615.185 C410.6,615.4 411.6,615.5 412.593,615.704 C413.6,615.9 414.6,616.1 415.559,616.221 C416.6,616.4 417.5,616.6 418.567,616.73 C419.6,616.9 420.6,617.1 421.715,617.205 C422.8,617.4 423.9,617.5 425,617.655 C426.1,617.8 427.2,618.0 428.29,618.163 C429.4,618.4 430.4,618.6 431.456,618.9 C432.5,619.2 433.5,619.5 434.497,619.866 C435.5,620.2 436.5,620.6 437.5,620.9 C438.5,621.2 439.5,621.6 440.5,621.941 C441.5,622.3 442.5,622.6 443.5,622.988 C444.5,623.3 445.5,623.7 446.5,624.058 C447.5,624.4 448.5,624.8 449.5,625.151 C450.5,625.5 451.5,625.9 452.5,626.25 C453.5,626.6 454.5,627.0 455.5,627.348 C456.5,627.7 457.5,628.1 458.5,628.419 C459.5,628.8 460.5,629.1 461.5,629.399 C462.5,629.7 463.5,630.0 464.5,630.288 C465.5,630.6 466.5,630.9 467.5,631.15 C468.5,631.4 469.5,631.7 470.5,632.004 C471.5,632.3 472.5,632.6 473.5,632.787 C474.5,633.0 475.5,633.2 476.5,633.332 C477.5,633.5 478.5,633.5 479.5,633.639 C480.5,633.7 481.5,633.8 482.5,633.875 C483.5,634.0 484.5,634.0 485.5,634.105 C486.5,634.2 487.5,634.3 488.5,634.335 C489.5,634.4 490.5,634.5 491.5,634.565 C492.5,634.6 493.5,634.7 494.5,634.795 C495.5,634.9 496.5,634.9 497.5,635.025 C498.5,635.1 499.5,635.2 500.5,635.257 C501.5,635.3 502.5,635.4 503.502,635.52 C504.5,635.6 505.5,635.7 506.508,635.881 C507.5,636.0 508.5,636.2 509.52,636.342 C510.5,636.5 511.5,636.7 512.533,636.833 C513.5,637.0 514.5,637.2 515.547,637.327 C516.6,637.5 517.6,637.7 518.56,637.82 C519.6,638.0 520.6,638.1 521.573,638.314 C522.6,638.5 523.6,638.6 524.585,638.816 C525.6,639.0 526.6,639.2 527.591,639.374 C528.6,639.6 529.6,639.8 530.583,640.033 C531.6,640.3 532.6,640.5 533.569,640.746 C534.6,641.0 535.6,641.2 536.554,641.469 C537.5,641.7 538.5,641.9 539.538,642.192 C540.5,642.4 541.5,642.7 542.521,642.925 C543.5,643.2 544.5,643.4 545.474,643.773 C546.4,644.1 547.4,644.5 548.33,645.007 C549.3,645.5 550.2,646.1 551.088,646.628 C552.0,647.2 552.9,647.8 553.818,648.364 C554.7,648.9 555.6,649.5 556.545,650.109 C557.5,650.7 558.4,651.3 559.27,651.844 C560.2,652.4 561.1,653.0 561.975,653.521 C562.9,654.1 563.8,654.6 564.647,655.09 C565.5,655.6 566.4,656.1 567.3,656.6 C568.2,657.1 569.1,657.6 569.945,658.11 C570.8,658.6 571.7,659.1 572.557,659.675 C573.4,660.2 574.3,660.8 575.111,661.343 C576.0,661.9 576.8,662.5 577.633,663.067 C578.5,663.6 579.3,664.2 580.15,664.8 C581.0,665.4 581.8,666.0 582.667,666.533 C583.5,667.1 584.3,667.7 585.188,668.268 C586.0,668.8 586.9,669.4 587.734,670.01 C588.6,670.6 589.5,671.2 590.328,671.766 C591.2,672.4 592.1,672.9 592.947,673.529 C593.8,674.1 594.7,674.7 595.571,675.294 C596.4,675.9 597.3,676.5 598.194,677.059 C599.1,677.6 599.9,678.2 600.818,678.824 C601.7,679.4 602.6,680.0 603.441,680.588 C604.3,681.2 605.2,681.8 606.064,682.352 C606.9,682.9 607.8,683.5 608.675,684.105 C609.5,684.7 610.4,685.3 611.248,685.82 C612.1,686.4 612.9,686.9 613.782,687.499 C614.6,688.1 615.5,688.6 616.306,689.167 C617.1,689.7 618.0,690.3 618.828,690.833 C619.7,691.4 620.5,691.9 621.35,692.5 C622.2,693.1 623.0,693.6 623.872,694.167 C624.7,694.7 625.6,695.3 626.394,695.833 C627.2,696.4 628.1,696.9 628.919,697.498 C629.8,698.1 630.6,698.6 631.474,699.145 C632.3,699.7 633.2,700.2 634.129,700.728 C635.0,701.2 636.0,701.7 636.884,702.248 C637.8,702.8 638.7,703.2 639.669,703.75 C640.6,704.3 641.5,704.8 642.456,705.25 C643.4,705.8 644.3,706.2 645.244,706.75 C646.2,707.2 647.1,707.8 648.031,708.25 C649.0,708.7 649.9,709.3 650.821,709.745 C651.8,710.2 652.7,710.7 653.634,711.174 C654.6,711.6 655.5,712.0 656.528,712.384 C657.5,712.8 658.5,713.1 659.502,713.375 C660.5,713.7 661.5,714.0 662.5,714.3 C663.5,714.6 664.5,714.9 665.5,715.22 C666.5,715.5 667.8,715.9 668.5,716.14 C669.2,716.4 669.8,716.5 670,716.6" fill="none" stroke="#f24c56" stroke-width="2.0" stroke-linejoin="round" stroke-linecap="round"/>
<path d="M204,711.3 C204.2,710.8 204.9,709.5 205.333,708.533 C205.8,707.6 206.2,706.7 206.671,705.77 C207.1,704.9 207.6,703.9 208.036,703.032 C208.5,702.1 209.0,701.2 209.449,700.337 C209.9,699.4 210.4,698.6 210.889,697.667 C211.4,696.8 211.8,695.9 212.335,695.001 C212.8,694.1 213.3,693.2 213.801,692.345 C214.3,691.5 214.8,690.6 215.336,689.725 C215.9,688.9 216.4,688.0 216.939,687.138 C217.5,686.3 218.0,685.4 218.561,684.56 C219.1,683.7 219.6,682.8 220.164,681.946 C220.7,681.1 221.2,680.1 221.699,679.214 C222.2,678.3 222.7,677.3 223.165,676.364 C223.7,675.4 224.1,674.4 224.611,673.478 C225.1,672.5 225.6,671.6 226.063,670.587 C226.6,669.6 227.0,668.7 227.558,667.688 C228.1,666.7 228.6,665.7 229.132,664.774 C229.7,663.8 230.2,662.8 230.75,661.85 C231.3,660.9 231.8,659.9 232.368,658.936 C232.9,658.0 233.4,657.0 233.949,656.083 C234.5,655.2 235.0,654.2 235.46,653.344 C236.0,652.4 236.4,651.6 236.933,650.667 C237.4,649.8 237.9,648.9 238.401,648.001 C238.9,647.1 239.4,646.2 239.884,645.349 C240.4,644.5 240.9,643.6 241.417,642.74 C241.9,641.9 242.5,641.0 243.001,640.176 C243.5,639.3 244.1,638.5 244.6,637.625 C245.1,636.8 245.7,635.9 246.207,635.068 C246.7,634.2 247.3,633.4 247.832,632.493 C248.4,631.6 248.9,630.8 249.475,629.9 C250.0,629.0 250.6,628.2 251.125,627.3 C251.7,626.4 252.2,625.6 252.768,624.7 C253.3,623.8 253.9,623.0 254.393,622.1 C254.9,621.2 255.5,620.4 256,619.5 C256.5,618.6 257.1,617.8 257.604,616.9 C258.1,616.0 258.7,615.2 259.252,614.3 C259.8,613.4 260.4,612.6 261.052,611.7 C261.7,610.8 262.3,610.0 263.004,609.1 C263.7,608.2 264.3,607.4 264.998,606.501 C265.7,605.6 266.3,604.8 266.974,603.91 C267.6,603.1 268.3,602.2 268.874,601.35 C269.5,600.5 270.1,599.7 270.698,598.821 C271.3,598.0 271.9,597.1 272.5,596.3 C273.1,595.5 273.7,594.6 274.294,593.774 C274.9,592.9 275.5,592.1 276.021,591.171 C276.6,590.3 277.1,589.3 277.522,588.312 C278.0,587.3 278.4,586.2 278.827,585.222 C279.3,584.2 279.7,583.2 280.257,582.225 C280.8,581.3 281.4,580.4 282.033,579.529 C282.7,578.7 283.3,577.8 284.001,577.001 C284.7,576.2 285.3,575.3 285.993,574.498 C286.6,573.7 287.3,572.8 287.942,571.985 C288.6,571.1 289.2,570.3 289.811,569.453 C290.4,568.6 291.0,567.8 291.636,566.909 C292.2,566.1 292.8,565.2 293.455,564.364 C294.1,563.5 294.7,562.7 295.273,561.819 C295.9,561.0 296.5,560.1 297.095,559.284 C297.7,558.4 298.3,557.6 298.927,556.78 C299.5,556.0 300.2,555.1 300.769,554.308 C301.4,553.5 302.0,552.7 302.615,551.846 C303.2,551.0 303.8,550.2 304.462,549.385 C305.1,548.6 305.7,547.7 306.308,546.923 C306.9,546.1 307.5,545.3 308.167,544.474 C308.8,543.7 309.4,542.9 310.099,542.099 C310.8,541.3 311.5,540.6 312.167,539.859 C312.9,539.1 313.6,538.4 314.308,537.693 C315.0,537.0 315.7,536.3 316.462,535.538 C317.2,534.8 317.9,534.1 318.615,533.385 C319.3,532.7 320.0,531.9 320.772,531.232 C321.5,530.5 322.2,529.8 322.963,529.097 C323.7,528.4 324.5,527.7 325.271,527.02 C326.1,526.3 326.9,525.7 327.695,525.001 C328.5,524.3 329.3,523.7 330.154,523 C331.0,522.3 331.8,521.7 332.615,521 C333.4,520.3 334.3,519.7 335.077,519.001 C335.9,518.3 336.7,517.7 337.547,517.022 C338.4,516.4 339.2,515.7 340.066,515.171 C340.9,514.6 341.8,514.1 342.675,513.555 C343.6,513.0 344.4,512.6 345.334,512.067 C346.2,511.6 347.1,511.1 348,510.6 C348.9,510.1 349.8,509.6 350.667,509.133 C351.6,508.6 352.4,508.2 353.333,507.667 C354.2,507.2 355.1,506.7 356.002,506.202 C356.9,505.7 357.8,505.2 358.692,504.757 C359.6,504.3 360.5,503.8 361.454,503.381 C362.4,502.9 363.3,502.5 364.288,502.073 C365.2,501.6 366.2,501.2 367.143,500.786 C368.1,500.4 369.0,499.9 370,499.5 C371.0,499.1 371.9,498.6 372.857,498.214 C373.8,497.8 374.8,497.4 375.714,496.931 C376.7,496.5 377.6,496.1 378.571,495.68 C379.5,495.3 380.5,494.9 381.429,494.537 C382.4,494.2 383.3,493.8 384.286,493.503 C385.2,493.2 386.2,492.8 387.143,492.5 C388.1,492.2 389.0,491.8 390,491.5 C391.0,491.2 391.9,490.8 392.857,490.5 C393.8,490.2 394.8,489.8 395.714,489.5 C396.7,489.2 397.6,488.8 398.571,488.5 C399.5,488.2 400.5,487.8 401.429,487.5 C402.4,487.2 403.3,486.8 404.286,486.5 C405.2,486.2 406.2,485.8 407.143,485.5 C408.1,485.2 409.0,484.8 410,484.5 C411.0,484.2 411.9,483.8 412.857,483.5 C413.8,483.2 414.8,482.8 415.716,482.501 C416.7,482.2 417.6,481.8 418.6,481.51 C419.6,481.2 420.6,480.9 421.567,480.549 C422.6,480.2 423.6,479.9 424.617,479.616 C425.6,479.3 426.7,479.0 427.692,478.692 C428.7,478.4 429.7,478.1 430.769,477.769 C431.8,477.5 432.8,477.2 433.846,476.846 C434.9,476.5 435.9,476.2 436.923,475.923 C437.9,475.6 439.0,475.3 440,475 C441.0,474.7 442.1,474.4 443.077,474.077 C444.1,473.8 445.1,473.5 446.154,473.154 C447.2,472.8 448.2,472.5 449.231,472.231 C450.3,471.9 451.3,471.6 452.308,471.308 C453.3,471.0 454.4,470.7 455.383,470.383 C456.4,470.1 457.4,469.8 458.433,469.433 C459.4,469.1 460.4,468.8 461.4,468.4 C462.4,468.0 463.3,467.7 464.284,467.284 C465.2,466.9 466.2,466.5 467.143,466.143 C468.1,465.8 469.0,465.4 470,465 C471.0,464.6 471.9,464.2 472.857,463.857 C473.8,463.5 474.8,463.1 475.717,462.715 C476.7,462.3 477.6,462.0 478.605,461.576 C479.6,461.2 480.6,460.8 481.589,460.449 C482.6,460.1 483.6,459.7 484.669,459.334 C485.7,459.0 486.7,458.6 487.778,458.222 C488.8,457.9 489.9,457.5 490.881,457.104 C491.9,456.7 492.9,456.3 493.935,455.948 C494.9,455.6 495.9,455.1 496.901,454.721 C497.9,454.3 498.8,453.9 499.818,453.454 C500.8,453.0 501.8,452.6 502.727,452.182 C503.7,451.8 504.7,451.3 505.634,450.905 C506.6,450.5 507.6,450.0 508.514,449.585 C509.5,449.1 510.4,448.6 511.302,448.115 C512.2,447.6 513.1,447.0 513.998,446.496 C514.9,445.9 515.8,445.4 516.667,444.833 C517.6,444.3 518.4,443.7 519.333,443.167 C520.2,442.6 521.1,442.1 521.997,441.499 C522.9,440.9 523.8,440.4 524.632,439.816 C525.5,439.2 526.3,438.7 527.165,438.083 C528.0,437.5 528.8,436.9 529.597,436.299 C530.4,435.7 531.2,435.1 532,434.5 C532.8,433.9 533.6,433.3 534.398,432.696 C535.2,432.1 536.0,431.5 536.777,430.845 C537.6,430.2 538.3,429.5 539.088,428.833 C539.8,428.1 540.6,427.4 541.332,426.663 C542.1,425.9 542.8,425.2 543.555,424.444 C544.3,423.7 545.0,423.0 545.759,422.204 C546.5,421.4 547.2,420.7 547.857,419.857 C548.5,419.0 549.1,418.2 549.759,417.315 C550.4,416.4 551.0,415.6 551.555,414.666 C552.1,413.8 552.7,412.9 553.328,411.999 C553.9,411.1 554.5,410.2 555.035,409.316 C555.6,408.4 556.1,407.5 556.524,406.583 C557.0,405.7 557.4,404.7 557.795,403.799 C558.2,402.9 558.6,401.9 559,401 C559.4,400.1 559.8,399.1 560.199,398.197 C560.6,397.3 561.0,396.3 561.388,395.359 C561.8,394.4 562.2,393.4 562.544,392.404 C562.9,391.4 563.3,390.4 563.666,389.33 C564.0,388.3 564.4,387.3 564.777,386.222 C565.1,385.2 565.5,384.1 565.88,383.111 C566.2,382.1 566.6,381.0 566.929,380 C567.3,379.0 567.6,377.9 567.88,376.889 C568.2,375.9 568.5,374.8 568.777,373.778 C569.1,372.7 569.4,371.7 569.663,370.667 C569.9,369.6 570.2,368.6 570.499,367.56 C570.8,366.5 571.0,365.5 571.175,364.466 C571.4,363.4 571.5,362.4 571.688,361.385 C571.9,360.4 572.0,359.3 572.154,358.308 C572.3,357.3 572.5,356.3 572.615,355.231 C572.8,354.2 572.9,353.2 573.077,352.154 C573.2,351.1 573.4,350.1 573.529,349.078 C573.7,348.1 573.8,347.0 573.927,346.006 C574.0,345.0 574.1,344.0 574.226,342.942 C574.3,341.9 574.4,340.9 574.47,339.882 C574.6,338.9 574.6,337.8 574.706,336.824 C574.8,335.8 574.9,334.8 574.941,333.765 C575.0,332.7 575.1,331.7 575.176,330.706 C575.3,329.7 575.3,328.7 575.412,327.647 C575.5,326.6 575.6,325.6 575.647,324.588 C575.7,323.6 575.8,322.5 575.884,321.527 C576.0,320.5 576.0,319.5 576.125,318.459 C576.2,317.4 576.3,316.4 576.369,315.384 C576.5,314.4 576.5,313.3 576.615,312.308 C576.7,311.3 576.8,310.3 576.862,309.231 C576.9,308.2 577.0,307.2 577.108,306.154 C577.2,305.1 577.3,304.1 577.354,303.08 C577.4,302.1 577.5,301.0 577.598,300.025 C577.7,299.0 577.8,298.0 577.84,297.003 C577.9,296.0 578.0,295.0 578.08,294 C578.2,293.0 578.2,292.0 578.32,291 C578.4,290.0 578.5,289.0 578.56,288 C578.6,287.0 578.7,286.0 578.8,285 C578.9,284.0 579.0,283.0 579.04,282 C579.1,281.0 579.2,280.0 579.28,279 C579.4,278.0 579.4,277.0 579.52,276 C579.6,275.0 579.7,274.0 579.763,272.997 C579.8,272.0 579.9,271.0 580.022,269.975 C580.1,269.0 580.2,267.9 580.31,266.92 C580.4,265.9 580.5,264.9 580.615,263.846 C580.7,262.8 580.8,261.8 580.923,260.769 C581.0,259.7 581.1,258.7 581.231,257.692 C581.3,256.7 581.4,255.6 581.54,254.615 C581.6,253.6 581.7,252.6 581.866,251.538 C582.0,250.5 582.1,249.5 582.251,248.462 C582.4,247.4 582.5,246.4 582.694,245.385 C582.8,244.4 583.0,243.3 583.154,242.308 C583.3,241.3 583.5,240.3 583.615,239.231 C583.8,238.2 583.9,237.2 584.077,236.154 C584.2,235.1 584.4,234.1 584.547,233.076 C584.7,232.0 584.9,231.0 585.066,229.989 C585.3,229.0 585.5,227.9 585.675,226.887 C585.9,225.9 586.1,224.8 586.334,223.778 C586.6,222.7 586.8,221.7 587.004,220.669 C587.2,219.6 587.5,218.6 587.722,217.582 C588.0,216.6 588.3,215.6 588.601,214.572 C588.9,213.6 589.3,212.6 589.64,211.638 C590.0,210.7 590.4,209.7 590.727,208.727 C591.1,207.8 591.5,206.8 591.819,205.818 C592.2,204.8 592.5,203.9 592.924,202.909 C593.3,201.9 593.7,201.0 594.117,200 C594.5,199.0 595.0,198.1 595.47,197.091 C595.9,196.1 596.4,195.2 596.91,194.182 C597.4,193.2 597.9,192.2 598.364,191.273 C598.8,190.3 599.3,189.3 599.816,188.365 C600.3,187.4 600.8,186.4 601.243,185.473 C601.7,184.5 602.2,183.6 602.586,182.634 C603.0,181.7 603.4,180.8 603.844,179.847 C604.3,178.9 604.7,178.0 605.077,177.077 C605.5,176.2 605.9,175.2 606.308,174.308 C606.7,173.4 607.1,172.5 607.539,171.539 C608.0,170.6 608.4,169.7 608.787,168.773 C609.2,167.9 609.7,166.9 610.14,166.033 C610.6,165.1 611.2,164.2 611.685,163.338 C612.2,162.4 612.8,161.6 613.334,160.667 C613.9,159.8 614.4,158.9 615,158 C615.6,157.1 616.1,156.2 616.666,155.333 C617.2,154.4 617.8,153.6 618.312,152.659 C618.8,151.8 619.4,150.9 619.832,149.939 C620.3,149.0 620.7,148.1 621.121,147.135 C621.5,146.2 621.9,145.2 622.285,144.285 C622.7,143.3 623.0,142.4 623.429,141.429 C623.8,140.5 624.2,139.5 624.571,138.571 C625.0,137.6 625.3,136.7 625.714,135.714 C626.1,134.8 626.5,133.8 626.854,132.854 C627.2,131.9 627.6,130.9 627.979,129.979 C628.3,129.0 628.7,128.0 629.074,127.074 C629.4,126.1 629.8,125.1 630.154,124.154 C630.5,123.2 630.9,122.2 631.231,121.231 C631.6,120.3 631.9,119.3 632.308,118.308 C632.7,117.3 633.0,116.4 633.385,115.385 C633.7,114.4 634.2,113.2 634.462,112.462 C634.7,111.7 634.9,111.2 635,111" fill="none" stroke="#f24c56" stroke-width="2.0" stroke-linejoin="round" stroke-linecap="round"/>
<path d="M204,414 C204.0,414.5 204.1,416.0 204.176,417 C204.2,418.0 204.3,419.0 204.353,420 C204.4,421.0 204.5,422.0 204.529,423 C204.6,424.0 204.6,425.0 204.706,426 C204.8,427.0 204.8,428.0 204.882,429 C204.9,430.0 205.0,431.0 205.059,432 C205.1,433.0 205.2,434.0 205.235,435 C205.3,436.0 205.4,437.0 205.412,438 C205.5,439.0 205.5,440.0 205.588,441 C205.6,442.0 205.7,443.0 205.765,444 C205.8,445.0 205.9,446.0 205.941,447 C206.0,448.0 206.1,449.0 206.118,450 C206.2,451.0 206.2,452.0 206.294,453 C206.4,454.0 206.4,455.0 206.471,456 C206.5,457.0 206.6,458.0 206.647,459 C206.7,460.0 206.8,461.0 206.829,462 C206.9,463.0 207.0,464.0 207.04,465 C207.1,466.0 207.2,467.0 207.305,468 C207.4,469.0 207.5,470.0 207.6,471 C207.7,472.0 207.8,473.0 207.9,474 C208.0,475.0 208.1,476.0 208.2,477 C208.3,478.0 208.4,479.0 208.5,480 C208.6,481.0 208.7,482.0 208.8,483 C208.9,484.0 209.0,485.0 209.1,486 C209.2,487.0 209.3,488.0 209.4,489 C209.5,490.0 209.6,491.0 209.7,492 C209.8,493.0 209.9,494.0 210,495 C210.1,496.0 210.2,497.0 210.3,498 C210.4,499.0 210.5,500.0 210.6,501 C210.7,502.0 210.8,503.0 210.9,504 C211.0,505.0 211.1,506.0 211.203,507 C211.3,508.0 211.4,509.0 211.524,510 C211.6,511.0 211.8,512.0 211.878,513 C212.0,514.0 212.1,515.0 212.25,516 C212.4,517.0 212.5,518.0 212.625,519 C212.7,520.0 212.9,521.0 213,522 C213.1,523.0 213.3,524.0 213.375,525 C213.5,526.0 213.6,527.0 213.75,528 C213.9,529.0 214.0,530.0 214.125,531 C214.2,532.0 214.4,533.0 214.5,534 C214.6,535.0 214.7,536.0 214.875,537 C215.0,538.0 215.1,539.0 215.25,540 C215.4,541.0 215.5,542.0 215.625,543 C215.8,544.0 215.9,545.0 216,546 C216.1,547.0 216.2,548.0 216.375,549 C216.5,550.0 216.6,551.0 216.75,552 C216.9,553.0 217.0,554.0 217.125,555 C217.2,556.0 217.4,557.0 217.5,558 C217.6,559.0 217.8,560.0 217.875,561 C218.0,562.0 218.1,563.0 218.25,564 C218.4,565.0 218.5,566.0 218.625,567 C218.8,568.0 218.9,569.0 219,570 C219.1,571.0 219.2,572.0 219.375,573 C219.5,574.0 219.6,575.0 219.75,576 C219.9,577.0 220.0,578.0 220.14,579 C220.3,580.0 220.4,581.0 220.62,582 C220.8,583.0 221.0,584.0 221.265,585 C221.5,586.0 221.8,587.0 222,588 C222.2,589.0 222.5,590.0 222.75,591 C223.0,592.0 223.2,593.0 223.5,594 C223.8,595.0 224.0,596.0 224.253,597 C224.5,598.0 224.8,599.0 225.027,600 C225.3,601.0 225.6,602.0 225.837,603 C226.1,604.0 226.4,605.0 226.687,606 C227.0,607.0 227.3,608.0 227.661,609 C228.0,610.0 228.4,611.0 228.854,612 C229.3,613.0 229.7,614.0 230.164,615 C230.6,616.0 231.0,617.0 231.476,617.998 C231.9,619.0 232.3,620.0 232.832,620.931 C233.4,621.8 233.9,622.8 234.619,623.504 C235.4,624.2 236.3,625.0 237.333,625.333 C238.3,625.7 239.5,625.7 240.6,625.6 C241.7,625.5 242.7,625.1 243.8,624.78 C244.9,624.5 245.9,624.1 247,623.743 C248.1,623.3 249.1,622.9 250.201,622.37 C251.3,621.9 252.3,621.3 253.417,620.836 C254.5,620.3 255.6,619.8 256.67,619.423 C257.7,619.0 258.8,618.7 259.894,618.431 C260.9,618.2 262.0,618.1 262.986,618.055 C264.0,618.0 265.0,618.0 266,618.002 C267.0,618.0 268.0,618.0 269,618 C270.0,618.0 271.0,618.0 272,618 C273.0,618.0 273.8,618.0 275,618 C276.2,618.0 278.2,618.0 279.5,618 C280.7,618.0 281.5,618.0 282.5,618 C283.5,618.0 284.5,618.0 285.5,618 C286.5,618.0 287.5,618.0 288.5,618 C289.5,618.0 290.5,618.0 291.5,618.004 C292.5,618.0 293.5,618.0 294.5,618.049 C295.5,618.1 296.5,618.2 297.5,618.237 C298.5,618.3 299.5,618.4 300.5,618.566 C301.5,618.7 302.5,618.8 303.5,618.937 C304.5,619.1 305.5,619.2 306.5,619.312 C307.5,619.4 308.5,619.6 309.5,619.688 C310.5,619.8 311.5,619.9 312.5,620.062 C313.5,620.2 314.5,620.3 315.5,620.44 C316.5,620.6 317.5,620.7 318.5,620.845 C319.5,621.0 320.5,621.2 321.5,621.345 C322.5,621.5 323.5,621.7 324.5,621.94 C325.5,622.1 326.5,622.4 327.5,622.562 C328.5,622.8 329.5,623.0 330.5,623.188 C331.5,623.4 332.5,623.6 333.5,623.812 C334.5,624.0 335.5,624.2 336.5,624.438 C337.5,624.6 338.5,624.9 339.501,625.06 C340.5,625.3 341.5,625.5 342.508,625.652 C343.5,625.8 344.5,626.0 345.537,626.141 C346.6,626.3 347.6,626.4 348.589,626.527 C349.6,626.7 350.6,626.8 351.647,626.882 C352.7,627.0 353.7,627.1 354.706,627.235 C355.7,627.4 356.7,627.5 357.765,627.588 C358.8,627.7 359.8,627.8 360.824,627.941 C361.8,628.1 362.9,628.2 363.882,628.294 C364.9,628.4 365.9,628.5 366.939,628.649 C368.0,628.8 369.0,628.9 369.981,629.015 C371.0,629.1 372.0,629.3 372.998,629.402 C374.0,629.5 375.0,629.7 376,629.8 C377.0,629.9 378.0,630.1 379,630.2 C380.0,630.3 381.0,630.5 382,630.6 C383.0,630.7 384.0,630.9 385,631 C386.0,631.1 387.0,631.3 388,631.4 C389.0,631.5 390.0,631.7 391,631.8 C392.0,631.9 393.0,632.1 394,632.2 C395.0,632.3 396.0,632.5 397.003,632.615 C398.0,632.8 399.0,632.9 400.025,633.119 C401.0,633.3 402.1,633.5 403.08,633.784 C404.1,634.0 405.1,634.3 406.154,634.539 C407.2,634.8 408.2,635.1 409.231,635.308 C410.3,635.6 411.3,635.8 412.308,636.077 C413.3,636.3 414.4,636.6 415.387,636.845 C416.4,637.1 417.4,637.4 418.495,637.602 C419.5,637.8 420.6,638.1 421.7,638.32 C422.8,638.6 423.9,638.8 424.999,638.997 C426.1,639.2 427.2,639.4 428.29,639.632 C429.4,639.8 430.4,640.0 431.456,640.165 C432.5,640.3 433.5,640.5 434.497,640.597 C435.5,640.7 436.5,640.9 437.5,641 C438.5,641.1 439.5,641.3 440.5,641.4 C441.5,641.5 442.5,641.7 443.5,641.8 C444.5,641.9 445.5,642.1 446.5,642.201 C447.5,642.3 448.5,642.5 449.5,642.625 C450.5,642.8 451.5,643.0 452.5,643.197 C453.5,643.4 454.5,643.7 455.5,644.039 C456.5,644.3 457.5,644.7 458.5,645.027 C459.5,645.4 460.5,645.7 461.5,646.04 C462.5,646.4 463.5,646.7 464.5,647.053 C465.5,647.4 466.5,647.7 467.5,648.067 C468.5,648.4 469.5,648.7 470.5,649.075 C471.5,649.4 472.5,649.7 473.502,650.025 C474.5,650.3 475.5,650.6 476.508,650.778 C477.5,651.0 478.5,651.2 479.52,651.335 C480.5,651.5 481.5,651.7 482.533,651.833 C483.5,652.0 484.5,652.2 485.547,652.327 C486.6,652.5 487.6,652.7 488.56,652.82 C489.6,653.0 490.6,653.1 491.573,653.314 C492.6,653.5 493.6,653.6 494.586,653.842 C495.6,654.1 496.6,654.3 497.596,654.572 C498.6,654.9 499.6,655.3 500.599,655.675 C501.6,656.1 502.6,656.5 503.6,656.981 C504.6,657.4 505.6,657.9 506.6,658.32 C507.6,658.8 508.6,659.2 509.589,659.657 C510.6,660.1 511.6,660.5 512.512,660.978 C513.5,661.4 514.4,661.8 515.316,662.27 C516.2,662.7 517.1,663.1 518.054,663.545 C519.0,664.0 519.9,664.4 520.782,664.818 C521.7,665.2 522.6,665.7 523.51,666.09 C524.4,666.5 525.3,666.9 526.246,667.354 C527.2,667.8 528.1,668.2 529.01,668.59 C529.9,669.0 530.9,669.4 531.801,669.799 C532.7,670.2 533.7,670.6 534.6,671 C535.5,671.4 536.5,671.8 537.4,672.2 C538.3,672.6 539.3,673.0 540.2,673.4 C541.1,673.8 542.1,674.2 543,674.6 C543.9,675.0 544.9,675.4 545.8,675.801 C546.7,676.2 547.7,676.6 548.603,677.013 C549.5,677.4 550.5,677.8 551.416,678.263 C552.4,678.7 553.3,679.1 554.238,679.551 C555.2,680.0 556.1,680.4 557.062,680.85 C558.0,681.3 558.9,681.7 559.888,682.15 C560.8,682.6 561.8,683.0 562.712,683.45 C563.7,683.9 564.6,684.3 565.538,684.75 C566.5,685.2 567.4,685.6 568.362,686.052 C569.3,686.5 570.2,686.9 571.184,687.376 C572.1,687.8 573.1,688.3 573.997,688.776 C574.9,689.3 575.9,689.8 576.8,690.252 C577.7,690.7 578.7,691.3 579.6,691.75 C580.5,692.2 581.5,692.8 582.4,693.25 C583.3,693.8 584.3,694.3 585.2,694.75 C586.1,695.3 587.1,695.8 588,696.25 C588.9,696.7 589.9,697.3 590.8,697.748 C591.7,698.2 592.7,698.7 593.605,699.227 C594.5,699.7 595.5,700.2 596.424,700.64 C597.4,701.1 598.3,701.5 599.257,701.986 C600.2,702.4 601.1,702.9 602.094,703.312 C603.0,703.8 604.0,704.2 604.931,704.638 C605.9,705.1 606.8,705.5 607.769,705.962 C608.7,706.4 609.7,706.8 610.606,707.288 C611.6,707.7 612.5,708.2 613.445,708.609 C614.4,709.0 615.3,709.5 616.303,709.895 C617.3,710.3 618.2,710.7 619.221,711.057 C620.2,711.4 621.2,711.8 622.202,712.097 C623.2,712.4 624.2,712.8 625.2,713.1 C626.2,713.4 627.2,713.8 628.2,714.1 C629.2,714.4 630.2,714.8 631.2,715.1 C632.2,715.4 633.5,715.9 634.2,716.1 C635.0,716.4 635.5,716.5 635.7,716.6" fill="none" stroke="#5e56f6" stroke-width="2.0" stroke-linejoin="round" stroke-linecap="round"/>
<path d="M204.8,691 C205.0,690.5 205.6,688.9 206.08,687.92 C206.5,686.9 206.9,685.9 207.404,684.904 C207.9,683.9 208.4,683.0 208.858,682.079 C209.4,681.2 209.9,680.3 210.441,679.442 C211.0,678.6 211.5,677.7 212.061,676.862 C212.6,676.0 213.1,675.1 213.664,674.275 C214.2,673.4 214.7,672.5 215.199,671.655 C215.7,670.8 216.2,669.9 216.665,668.999 C217.2,668.1 217.6,667.2 218.111,666.333 C218.6,665.4 219.1,664.6 219.563,663.658 C220.1,662.8 220.5,661.9 221.058,660.933 C221.6,660.0 222.1,659.1 222.632,658.116 C223.2,657.2 223.7,656.2 224.25,655.25 C224.8,654.3 225.3,653.3 225.862,652.374 C226.4,651.4 226.9,650.5 227.396,649.492 C227.9,648.5 228.3,647.6 228.787,646.599 C229.2,645.6 229.7,644.7 230.1,643.7 C230.5,642.7 231.0,641.8 231.4,640.8 C231.8,639.8 232.3,638.9 232.707,637.9 C233.1,636.9 233.6,636.0 234.054,635.004 C234.5,634.0 235.0,633.1 235.474,632.112 C236.0,631.1 236.4,630.2 236.934,629.222 C237.4,628.3 237.9,627.3 238.401,626.336 C238.9,625.4 239.4,624.4 239.884,623.486 C240.4,622.6 240.9,621.6 241.417,620.754 C241.9,619.9 242.5,619.0 243.001,618.14 C243.5,617.3 244.1,616.4 244.603,615.562 C245.1,614.7 245.7,613.8 246.237,612.984 C246.8,612.1 247.4,611.3 247.98,610.397 C248.6,609.5 249.2,608.7 249.831,607.8 C250.5,606.9 251.1,606.1 251.7,605.198 C252.3,604.3 252.9,603.5 253.485,602.582 C254.1,601.7 254.6,600.8 255.113,599.943 C255.6,599.1 256.1,598.2 256.654,597.291 C257.2,596.4 257.7,595.5 258.182,594.636 C258.7,593.8 259.2,592.9 259.71,591.98 C260.2,591.1 260.7,590.2 261.246,589.308 C261.8,588.4 262.3,587.5 262.81,586.581 C263.3,585.7 263.9,584.7 264.401,583.799 C264.9,582.9 265.5,581.9 266,581 C266.5,580.1 267.1,579.1 267.602,578.202 C268.1,577.3 268.7,576.3 269.229,575.433 C269.8,574.5 270.4,573.6 270.938,572.761 C271.5,571.9 272.1,571.0 272.729,570.184 C273.3,569.3 273.9,568.5 274.545,567.636 C275.2,566.8 275.8,565.9 276.364,565.091 C277.0,564.2 277.6,563.4 278.183,562.549 C278.8,561.7 279.4,560.9 280.009,560.027 C280.6,559.2 281.2,558.4 281.847,557.542 C282.5,556.7 283.1,555.9 283.692,555.077 C284.3,554.3 284.9,553.4 285.538,552.615 C286.2,551.8 286.8,551.0 287.385,550.154 C288.0,549.3 288.6,548.5 289.232,547.694 C289.9,546.9 290.5,546.1 291.097,545.248 C291.7,544.4 292.4,543.6 293.02,542.85 C293.7,542.1 294.3,541.3 295.001,540.501 C295.7,539.7 296.3,538.9 297,538.167 C297.7,537.4 298.3,536.6 299,535.833 C299.7,535.1 300.3,534.3 301.002,533.501 C301.7,532.7 302.3,531.9 303.024,531.187 C303.7,530.4 304.4,529.7 305.115,528.929 C305.8,528.2 306.6,527.5 307.274,526.729 C308.0,526.0 308.7,525.3 309.455,524.545 C310.2,523.8 310.9,523.1 311.636,522.364 C312.4,521.6 313.1,520.9 313.818,520.182 C314.5,519.5 315.3,518.7 316,518 C316.7,517.3 317.5,516.5 318.182,515.818 C318.9,515.1 319.6,514.4 320.364,513.636 C321.1,512.9 321.8,512.2 322.545,511.455 C323.3,510.7 324.0,510.0 324.729,509.276 C325.5,508.6 326.2,507.8 326.938,507.141 C327.7,506.5 328.5,505.8 329.229,505.15 C330.0,504.5 330.8,503.9 331.602,503.304 C332.4,502.7 333.2,502.1 334,501.5 C334.8,500.9 335.6,500.3 336.403,499.703 C337.2,499.1 338.0,498.5 338.835,497.944 C339.7,497.4 340.5,496.8 341.368,496.31 C342.2,495.8 343.1,495.3 344.003,494.803 C344.9,494.3 345.8,493.8 346.667,493.333 C347.6,492.8 348.4,492.4 349.333,491.867 C350.2,491.4 351.1,490.9 352,490.4 C352.9,489.9 353.8,489.4 354.667,488.934 C355.6,488.4 356.4,488.0 357.341,487.474 C358.2,487.0 359.1,486.5 360.061,486.058 C361.0,485.6 361.9,485.2 362.865,484.722 C363.8,484.3 364.8,483.9 365.715,483.429 C366.7,483.0 367.6,482.6 368.571,482.143 C369.5,481.7 370.5,481.3 371.429,480.857 C372.4,480.4 373.3,480.0 374.286,479.572 C375.2,479.1 376.2,478.7 377.143,478.292 C378.1,477.9 379.0,477.5 380,477.046 C381.0,476.6 381.9,476.3 382.857,475.863 C383.8,475.5 384.8,475.1 385.714,474.714 C386.7,474.3 387.6,474.0 388.571,473.571 C389.5,473.2 390.5,472.8 391.429,472.429 C392.4,472.0 393.3,471.7 394.286,471.286 C395.2,470.9 396.2,470.5 397.143,470.137 C398.1,469.7 399.0,469.4 400,468.954 C401.0,468.5 401.9,468.1 402.857,467.708 C403.8,467.3 404.8,466.9 405.714,466.428 C406.7,466.0 407.6,465.6 408.571,465.143 C409.5,464.7 410.5,464.3 411.429,463.857 C412.4,463.4 413.3,463.0 414.286,462.571 C415.2,462.1 416.2,461.7 417.143,461.286 C418.1,460.9 419.0,460.4 420,460 C421.0,459.6 421.9,459.1 422.857,458.714 C423.8,458.3 424.8,457.9 425.714,457.429 C426.7,457.0 427.6,456.6 428.571,456.143 C429.5,455.7 430.5,455.3 431.429,454.857 C432.4,454.4 433.3,454.0 434.285,453.571 C435.2,453.1 436.2,452.7 437.135,452.278 C438.1,451.8 439.0,451.4 439.939,450.942 C440.9,450.5 441.8,450.0 442.659,449.526 C443.6,449.0 444.4,448.6 445.333,448.066 C446.2,447.6 447.1,447.1 448,446.6 C448.9,446.1 449.8,445.6 450.667,445.133 C451.6,444.6 452.4,444.2 453.333,443.667 C454.2,443.2 455.1,442.7 455.997,442.196 C456.9,441.7 457.8,441.2 458.626,440.679 C459.5,440.1 460.3,439.6 461.135,439.004 C462.0,438.4 462.7,437.8 463.526,437.173 C464.3,436.6 465.1,435.9 465.882,435.294 C466.7,434.7 467.5,434.0 468.235,433.412 C469.0,432.8 469.8,432.2 470.588,431.529 C471.4,430.9 472.2,430.3 472.941,429.647 C473.7,429.0 474.5,428.4 475.294,427.764 C476.1,427.1 476.9,426.5 477.64,425.87 C478.4,425.2 479.2,424.6 479.945,423.904 C480.7,423.2 481.4,422.5 482.175,421.806 C482.9,421.1 483.6,420.4 484.363,419.636 C485.1,418.9 485.8,418.2 486.545,417.455 C487.3,416.7 488.0,416.0 488.723,415.266 C489.4,414.5 490.2,413.8 490.848,413.002 C491.5,412.2 492.2,411.4 492.796,410.483 C493.4,409.6 494.0,408.6 494.566,407.708 C495.1,406.8 495.7,405.8 496.26,404.855 C496.8,403.9 497.3,402.9 497.8,401.983 C498.3,401.0 498.7,400.1 499.065,399.089 C499.5,398.1 499.8,397.2 500.181,396.182 C500.5,395.2 500.9,394.2 501.273,393.273 C501.6,392.3 502.0,391.3 502.364,390.364 C502.7,389.4 503.1,388.4 503.455,387.455 C503.8,386.5 504.2,385.5 504.545,384.545 C504.9,383.6 505.3,382.6 505.636,381.636 C506.0,380.7 506.4,379.7 506.727,378.727 C507.1,377.8 507.5,376.8 507.818,375.818 C508.2,374.8 508.5,373.9 508.896,372.902 C509.2,371.9 509.6,370.9 509.897,369.946 C510.2,368.9 510.5,367.9 510.756,366.916 C511.0,365.9 511.3,364.9 511.538,363.846 C511.8,362.8 512.1,361.8 512.308,360.769 C512.6,359.7 512.8,358.7 513.077,357.692 C513.3,356.7 513.6,355.6 513.845,354.615 C514.1,353.6 514.4,352.6 514.595,351.538 C514.8,350.5 515.1,349.5 515.288,348.462 C515.5,347.4 515.7,346.4 515.922,345.385 C516.1,344.4 516.3,343.3 516.538,342.308 C516.7,341.3 516.9,340.3 517.154,339.231 C517.4,338.2 517.6,337.2 517.769,336.154 C518.0,335.1 518.2,334.1 518.385,333.077 C518.6,332.1 518.8,331.0 519,330 C519.2,329.0 519.4,327.9 519.615,326.923 C519.8,325.9 520.0,324.9 520.231,323.846 C520.4,322.8 520.6,321.8 520.846,320.769 C521.1,319.7 521.3,318.7 521.462,317.692 C521.7,316.7 521.9,315.6 522.074,314.615 C522.3,313.6 522.5,312.6 522.652,311.538 C522.8,310.5 523.0,309.5 523.113,308.462 C523.2,307.4 523.3,306.4 523.459,305.385 C523.6,304.4 523.7,303.3 523.769,302.308 C523.9,301.3 524.0,300.3 524.077,299.231 C524.2,298.2 524.3,297.2 524.384,296.154 C524.5,295.1 524.6,294.1 524.687,293.066 C524.8,292.0 524.9,291.0 524.955,289.918 C525.0,288.8 525.1,287.8 525.161,286.657 C525.2,285.6 525.3,284.4 525.337,283.347 C525.4,282.3 525.5,281.2 525.527,280.107 C525.6,279.1 525.7,278.0 525.753,277.014 C525.8,276.0 525.9,275.0 526,274 C526.1,273.0 526.2,272.0 526.25,271 C526.3,270.0 526.4,269.0 526.5,268 C526.6,267.0 526.7,266.0 526.75,265 C526.8,264.0 526.9,263.0 527,262 C527.1,261.0 527.2,260.0 527.25,259 C527.3,258.0 527.4,257.0 527.5,256 C527.6,255.0 527.7,254.0 527.752,253 C527.8,252.0 527.9,251.0 528.016,250 C528.1,249.0 528.2,248.0 528.302,247 C528.4,246.0 528.5,245.0 528.6,244 C528.7,243.0 528.8,242.0 528.9,241 C529.0,240.0 529.1,239.0 529.2,238 C529.3,237.0 529.4,236.0 529.5,235 C529.6,234.0 529.7,233.0 529.8,232 C529.9,231.0 530.0,230.0 530.1,229 C530.2,228.0 530.3,227.0 530.4,226 C530.5,225.0 530.6,224.0 530.704,223 C530.8,222.0 530.9,221.0 531.032,220 C531.1,219.0 531.3,218.0 531.404,217 C531.5,216.0 531.7,215.0 531.8,214 C531.9,213.0 532.1,212.0 532.2,211 C532.3,210.0 532.5,209.0 532.6,208 C532.7,207.0 532.9,206.0 533,205 C533.1,204.0 533.3,203.0 533.4,202 C533.5,201.0 533.7,200.0 533.8,199 C533.9,198.0 534.1,197.0 534.2,196 C534.3,195.0 534.5,194.0 534.6,193 C534.7,192.0 534.9,191.0 535,190 C535.1,189.0 535.3,188.0 535.4,187 C535.5,186.0 535.7,185.0 535.8,184 C535.9,183.0 536.1,182.0 536.2,181 C536.3,180.0 536.5,179.0 536.6,178 C536.7,177.0 536.9,176.0 537,175 C537.1,174.0 537.3,173.0 537.4,172 C537.5,171.0 537.7,170.0 537.8,169 C537.9,168.0 538.1,167.0 538.2,166 C538.3,165.0 538.5,164.0 538.599,163 C538.7,162.0 538.9,161.0 538.992,160 C539.1,159.0 539.2,158.0 539.374,157 C539.5,156.0 539.6,155.0 539.75,154 C539.9,153.0 540.0,152.0 540.125,151 C540.3,150.0 540.4,149.0 540.5,148 C540.6,147.0 540.7,146.0 540.875,145 C541.0,144.0 541.1,143.0 541.25,142 C541.4,141.0 541.5,140.0 541.639,139.002 C541.8,138.0 541.9,137.0 542.106,136.019 C542.3,135.0 542.5,134.0 542.719,133.061 C542.9,132.1 543.2,131.1 543.412,130.118 C543.6,129.1 543.9,128.2 544.118,127.176 C544.4,126.2 544.6,125.2 544.824,124.235 C545.1,123.3 545.3,122.3 545.529,121.294 C545.8,120.3 546.0,119.3 546.235,118.353 C546.5,117.4 546.7,116.4 546.941,115.412 C547.2,114.4 547.5,113.2 547.647,112.471 C547.8,111.7 547.9,111.2 548,111" fill="none" stroke="#5e56f6" stroke-width="2.0" stroke-linejoin="round" stroke-linecap="round"/>
<path d="M1341.5,356 C1341.6,356.5 1342.0,358.2 1342.25,359.25 C1342.5,360.3 1342.7,361.4 1343,362.5 C1343.3,363.6 1343.5,364.7 1343.77,365.76 C1344.0,366.9 1344.3,368.0 1344.66,369.08 C1345.0,370.2 1345.4,371.4 1345.74,372.498 C1346.1,373.6 1346.5,374.8 1346.79,375.904 C1347.1,377.0 1347.3,378.1 1347.57,379.188 C1347.8,380.3 1348.0,381.3 1348.2,382.4 C1348.4,383.5 1348.6,384.5 1348.8,385.6 C1349.0,386.7 1349.2,387.7 1349.4,388.796 C1349.6,389.9 1349.8,390.9 1350.02,391.971 C1350.2,393.0 1350.5,394.1 1350.67,395.107 C1350.9,396.1 1351.1,397.2 1351.33,398.222 C1351.6,399.3 1351.8,400.3 1352.01,401.33 C1352.2,402.4 1352.5,403.4 1352.74,404.404 C1353.0,405.4 1353.3,406.4 1353.67,407.359 C1354.0,408.3 1354.4,409.3 1354.84,410.178 C1355.3,411.1 1355.7,412.0 1356.26,412.85 C1356.8,413.7 1357.4,414.5 1358.03,415.314 C1358.7,416.1 1359.3,416.9 1360.01,417.66 C1360.7,418.4 1361.4,419.2 1362.06,419.951 C1362.8,420.7 1363.5,421.4 1364.19,422.176 C1364.9,422.9 1365.6,423.6 1366.36,424.363 C1367.1,425.1 1367.8,425.8 1368.55,426.545 C1369.3,427.3 1370.0,428.0 1370.73,428.724 C1371.5,429.4 1372.2,430.2 1372.95,430.865 C1373.7,431.6 1374.5,432.2 1375.27,432.879 C1376.1,433.5 1376.9,434.1 1377.69,434.766 C1378.5,435.4 1379.3,436.0 1380.15,436.615 C1381.0,437.2 1381.8,437.8 1382.62,438.462 C1383.4,439.1 1384.3,439.7 1385.08,440.307 C1385.9,440.9 1386.7,441.5 1387.55,442.144 C1388.4,442.7 1389.2,443.3 1390.07,443.921 C1390.9,444.5 1391.8,445.0 1392.68,445.59 C1393.6,446.1 1394.4,446.7 1395.33,447.2 C1396.2,447.7 1397.1,448.3 1398,448.8 C1398.9,449.3 1399.8,449.9 1400.67,450.4 C1401.6,450.9 1402.4,451.5 1403.33,452 C1404.2,452.5 1405.1,453.1 1406,453.598 C1406.9,454.1 1407.8,454.7 1408.69,455.178 C1409.6,455.7 1410.5,456.2 1411.45,456.692 C1412.4,457.2 1413.3,457.7 1414.29,458.141 C1415.2,458.6 1416.2,459.1 1417.14,459.571 C1418.1,460.0 1419.0,460.5 1420,461 C1421.0,461.5 1421.9,462.0 1422.86,462.429 C1423.8,462.9 1424.8,463.4 1425.71,463.857 C1426.7,464.3 1427.6,464.8 1428.57,465.286 C1429.5,465.8 1430.5,466.2 1431.43,466.714 C1432.4,467.2 1433.3,467.7 1434.29,468.143 C1435.2,468.6 1436.2,469.1 1437.14,469.571 C1438.1,470.0 1439.0,470.5 1440,471 C1441.0,471.5 1441.9,472.0 1442.86,472.429 C1443.8,472.9 1444.8,473.4 1445.71,473.854 C1446.7,474.3 1447.6,474.8 1448.57,475.248 C1449.5,475.7 1450.5,476.1 1451.43,476.534 C1452.4,476.9 1453.3,477.3 1454.29,477.712 C1455.2,478.1 1456.2,478.5 1457.14,478.857 C1458.1,479.2 1459.0,479.6 1460,480 C1461.0,480.4 1461.9,480.8 1462.86,481.143 C1463.8,481.5 1464.8,481.9 1465.71,482.291 C1466.7,482.7 1467.6,483.1 1468.57,483.504 C1469.5,483.9 1470.5,484.4 1471.43,484.932 C1472.4,485.4 1473.3,486.0 1474.29,486.576 C1475.2,487.1 1476.2,487.7 1477.14,488.262 C1478.1,488.8 1479.0,489.3 1480,489.816 C1481.0,490.3 1481.9,490.7 1482.86,491.119 C1483.8,491.5 1484.8,491.9 1485.71,492.285 C1486.7,492.7 1487.6,493.0 1488.57,493.429 C1489.5,493.8 1490.5,494.2 1491.43,494.571 C1492.4,495.0 1493.3,495.3 1494.29,495.714 C1495.2,496.1 1496.2,496.5 1497.14,496.857 C1498.1,497.2 1499.0,497.6 1500,498 C1501.0,498.4 1501.9,498.8 1502.86,499.143 C1503.8,499.5 1504.8,499.9 1505.71,500.286 C1506.7,500.7 1507.6,501.0 1508.57,501.429 C1509.5,501.8 1510.5,502.2 1511.43,502.571 C1512.4,503.0 1513.3,503.3 1514.29,503.714 C1515.2,504.1 1516.2,504.5 1517.14,504.857 C1518.1,505.2 1519.0,505.6 1520,506 C1521.0,506.4 1521.9,506.8 1522.86,507.143 C1523.8,507.5 1524.8,507.9 1525.71,508.286 C1526.7,508.7 1527.6,509.0 1528.57,509.429 C1529.5,509.8 1530.5,510.2 1531.43,510.571 C1532.4,511.0 1533.3,511.3 1534.29,511.715 C1535.2,512.1 1536.2,512.5 1537.14,512.874 C1538.1,513.3 1539.0,513.7 1539.94,514.13 C1540.9,514.6 1541.8,515.1 1542.66,515.563 C1543.6,516.1 1544.4,516.6 1545.33,517.094 C1546.2,517.6 1547.1,518.1 1548,518.64 C1548.9,519.2 1549.8,519.7 1550.67,520.187 C1551.6,520.7 1552.4,521.2 1553.33,521.733 C1554.2,522.2 1555.1,522.8 1556,523.278 C1556.9,523.8 1557.8,524.3 1558.67,524.8 C1559.6,525.3 1560.5,525.8 1561.37,526.246 C1562.3,526.7 1563.2,527.2 1564.09,527.616 C1565.0,528.1 1565.9,528.5 1566.82,528.964 C1567.7,529.4 1568.6,529.9 1569.55,530.309 C1570.5,530.8 1571.4,531.2 1572.27,531.667 C1573.2,532.1 1574.1,532.6 1575,533.093 C1575.9,533.6 1576.8,534.1 1577.73,534.648 C1578.6,535.2 1579.5,535.7 1580.45,536.273 C1581.4,536.8 1582.3,537.4 1583.18,537.909 C1584.1,538.5 1585.0,539.0 1585.91,539.541 C1586.8,540.1 1587.7,540.6 1588.67,541.125 C1589.6,541.6 1590.6,542.1 1591.54,542.543 C1592.5,543.0 1593.5,543.4 1594.5,543.796 C1595.5,544.2 1596.5,544.6 1597.5,545 C1598.5,545.4 1599.5,545.8 1600.5,546.205 C1601.5,546.6 1602.5,547.0 1603.43,547.474 C1604.4,547.9 1605.3,548.4 1606.18,548.958 C1607.1,549.5 1607.9,550.1 1608.75,550.655 C1609.6,551.2 1610.4,551.8 1611.25,552.417 C1612.1,553.0 1612.9,553.6 1613.75,554.183 C1614.6,554.8 1615.4,555.4 1616.25,555.949 C1617.1,556.5 1617.9,557.1 1618.78,557.7 C1619.6,558.3 1620.5,558.8 1621.39,559.401 C1622.3,560.0 1623.2,560.5 1624.09,561.053 C1625.0,561.6 1625.9,562.1 1626.82,562.691 C1627.7,563.2 1628.6,563.8 1629.55,564.327 C1630.5,564.9 1631.4,565.4 1632.27,565.952 C1633.2,566.5 1634.1,567.0 1635,567.507 C1635.9,568.0 1636.8,568.5 1637.73,568.933 C1638.6,569.4 1639.5,569.8 1640.45,570.291 C1641.4,570.7 1642.3,571.2 1643.18,571.636 C1644.1,572.1 1645.0,572.5 1645.91,572.979 C1646.8,573.4 1647.7,573.9 1648.67,574.292 C1649.6,574.7 1650.6,575.1 1651.54,575.505 C1652.5,575.9 1653.5,576.3 1654.5,576.618 C1655.5,577.0 1656.5,577.3 1657.5,577.7 C1658.5,578.1 1659.5,578.4 1660.5,578.775 C1661.5,579.1 1662.5,579.5 1663.5,579.797 C1664.5,580.1 1665.5,580.4 1666.5,580.637 C1667.5,580.9 1668.5,581.1 1669.5,581.295 C1670.5,581.5 1671.5,581.7 1672.5,581.9 C1673.5,582.1 1674.5,582.3 1675.5,582.5 C1676.5,582.7 1677.5,582.9 1678.5,583.108 C1679.5,583.3 1680.5,583.5 1681.5,583.818 C1682.5,584.1 1683.5,584.5 1684.5,584.868 C1685.5,585.3 1686.5,585.8 1687.5,586.258 C1688.5,586.7 1689.5,587.2 1690.5,587.755 C1691.5,588.3 1692.5,588.8 1693.43,589.316 C1694.4,589.9 1695.3,590.5 1696.18,591.066 C1697.1,591.7 1697.9,592.3 1698.75,593.005 C1699.6,593.7 1700.4,594.3 1701.25,595 C1702.1,595.7 1702.9,596.3 1703.75,597 C1704.6,597.7 1705.4,598.3 1706.25,598.997 C1707.1,599.7 1707.9,600.3 1708.78,600.952 C1709.6,601.6 1710.5,602.2 1711.39,602.77 C1712.3,603.4 1713.2,603.9 1714.09,604.451 C1715.0,605.0 1715.9,605.5 1716.82,606.091 C1717.7,606.6 1718.6,607.2 1719.55,607.727 C1720.5,608.3 1721.4,608.8 1722.26,609.365 C1723.2,609.9 1724.1,610.5 1724.93,611.01 C1725.8,611.6 1726.6,612.1 1727.49,612.668 C1728.3,613.2 1729.2,613.8 1730,614.333 C1730.8,614.9 1731.7,615.4 1732.5,616 C1733.3,616.6 1734.2,617.1 1735,617.666 C1735.8,618.2 1736.7,618.8 1737.52,619.314 C1738.4,619.8 1739.2,620.4 1740.13,620.85 C1741.0,621.3 1742.0,621.8 1742.91,622.181 C1743.9,622.6 1744.8,623.0 1745.79,623.399 C1746.7,623.8 1747.7,624.2 1748.68,624.6 C1749.6,625.0 1750.6,625.4 1751.57,625.8 C1752.5,626.2 1753.5,626.6 1754.47,627 C1755.4,627.4 1756.4,627.8 1757.36,628.196 C1758.3,628.6 1759.3,629.0 1760.26,629.343 C1761.2,629.7 1762.2,630.0 1763.19,630.328 C1764.2,630.6 1765.2,630.9 1766.15,631.15 C1767.1,631.4 1768.1,631.7 1769.12,631.923 C1770.1,632.2 1771.1,632.4 1772.09,632.692 C1773.1,632.9 1774.1,633.2 1775.06,633.462 C1776.1,633.7 1777.0,634.0 1778.03,634.236 C1779.0,634.5 1780.0,634.8 1781.01,635.042 C1782.0,635.3 1783.0,635.6 1784,635.905 C1785.0,636.2 1786.0,636.5 1787,636.78 C1788.0,637.1 1789.0,637.3 1790,637.539 C1791.0,637.8 1792.0,637.9 1793,638.079 C1794.0,638.2 1795.0,638.4 1796,638.499 C1797.0,638.6 1798.0,638.8 1799,638.9 C1800.0,639.0 1801.0,639.2 1802,639.3 C1803.0,639.4 1804.0,639.6 1805,639.699 C1806.0,639.8 1807.0,640.0 1808.01,640.081 C1809.0,640.2 1810.0,640.3 1811.06,640.41 C1812.1,640.5 1813.1,640.6 1814.14,640.684 C1815.2,640.8 1816.2,640.9 1817.24,640.943 C1818.3,641.0 1819.3,641.1 1820.33,641.2 C1821.4,641.3 1822.4,641.4 1823.43,641.457 C1824.5,641.5 1825.5,641.6 1826.52,641.714 C1827.6,641.8 1828.6,641.9 1829.62,641.971 C1830.7,642.1 1831.7,642.1 1832.71,642.229 C1833.7,642.3 1834.8,642.4 1835.81,642.486 C1836.8,642.6 1837.9,642.7 1838.91,642.765 C1840.0,642.9 1841.0,643.0 1842.05,643.174 C1843.1,643.4 1844.2,643.6 1845.26,643.822 C1846.3,644.1 1847.4,644.3 1848.5,644.6 C1849.6,644.9 1850.7,645.1 1851.74,645.392 C1852.8,645.6 1853.9,645.9 1854.94,646.14 C1856.0,646.4 1857.0,646.6 1858.05,646.804 C1859.1,647.0 1860.1,647.2 1861.12,647.423 C1862.1,647.6 1863.2,647.8 1864.18,648.035 C1865.2,648.2 1866.2,648.4 1867.24,648.647 C1868.3,648.9 1869.3,649.1 1870.29,649.259 C1871.3,649.5 1872.3,649.7 1873.35,649.871 C1874.4,650.1 1875.4,650.3 1876.41,650.481 C1877.4,650.7 1878.4,650.9 1879.46,651.078 C1880.5,651.3 1881.5,651.5 1882.5,651.63 C1883.5,651.8 1884.5,652.0 1885.52,652.137 C1886.5,652.3 1887.5,652.5 1888.54,652.631 C1889.5,652.8 1890.5,653.0 1891.55,653.123 C1892.6,653.3 1893.6,653.4 1894.57,653.616 C1895.6,653.8 1896.6,653.9 1897.58,654.137 C1898.6,654.3 1899.6,654.5 1900.59,654.832 C1901.6,655.1 1902.6,655.5 1903.58,655.845 C1904.6,656.2 1905.6,656.6 1906.57,657.032 C1907.6,657.4 1908.6,657.8 1909.55,658.246 C1910.5,658.7 1911.5,659.1 1912.54,659.462 C1913.5,659.9 1914.5,660.3 1915.52,660.673 C1916.5,661.1 1917.5,661.5 1918.51,661.838 C1919.5,662.2 1920.5,662.5 1921.51,662.845 C1922.5,663.2 1923.5,663.4 1924.52,663.696 C1925.5,664.0 1926.5,664.2 1927.54,664.5 C1928.5,664.8 1929.5,665.0 1930.55,665.3 C1931.6,665.6 1932.6,665.8 1933.57,666.101 C1934.6,666.4 1935.6,666.6 1936.57,666.928 C1937.6,667.2 1938.6,667.5 1939.52,667.916 C1940.5,668.3 1941.4,668.7 1942.36,669.199 C1943.3,669.7 1944.2,670.2 1945.14,670.644 C1946.1,671.1 1947.0,671.6 1947.91,672.114 C1948.8,672.6 1949.8,673.1 1950.69,673.586 C1951.6,674.1 1952.5,674.6 1953.46,675.057 C1954.4,675.5 1955.3,676.0 1956.23,676.522 C1957.2,677.0 1958.1,677.5 1959.01,677.95 C1959.9,678.4 1960.9,678.9 1961.82,679.308 C1962.8,679.8 1963.7,680.2 1964.63,680.628 C1965.6,681.1 1966.5,681.5 1967.44,681.943 C1968.4,682.4 1969.3,682.8 1970.26,683.257 C1971.2,683.7 1972.1,684.1 1973.07,684.571 C1974.0,685.0 1974.9,685.4 1975.88,685.885 C1976.8,686.3 1977.8,686.8 1978.68,687.195 C1979.6,687.6 1980.5,688.1 1981.45,688.499 C1982.4,688.9 1983.3,689.4 1984.21,689.8 C1985.1,690.2 1986.1,690.7 1986.97,691.1 C1987.9,691.5 1988.8,692.0 1989.73,692.4 C1990.6,692.8 1991.6,693.3 1992.49,693.7 C1993.4,694.1 1994.3,694.6 1995.25,695 C1996.2,695.4 1997.1,695.9 1998.02,696.3 C1998.9,696.7 1999.9,697.2 2000.82,697.6 C2001.8,698.0 2002.7,698.5 2003.63,698.9 C2004.6,699.3 2005.5,699.8 2006.44,700.2 C2007.4,700.6 2008.3,701.1 2009.26,701.5 C2010.2,701.9 2011.1,702.4 2012.07,702.8 C2013.0,703.2 2013.9,703.7 2014.88,704.1 C2015.8,704.5 2016.8,705.0 2017.68,705.4 C2018.6,705.8 2019.5,706.3 2020.45,706.7 C2021.4,707.1 2022.3,707.6 2023.21,708 C2024.1,708.4 2025.1,708.9 2025.97,709.3 C2026.9,709.7 2027.8,710.2 2028.73,710.6 C2029.6,711.0 2030.6,711.5 2031.49,711.9 C2032.4,712.3 2033.3,712.8 2034.25,713.195 C2035.2,713.6 2036.1,714.0 2037.04,714.462 C2038.0,714.9 2038.9,715.3 2039.88,715.677 C2040.8,716.1 2041.8,716.5 2042.75,716.863 C2043.7,717.3 2044.7,717.7 2045.62,718.045 C2046.6,718.4 2047.5,718.8 2048.49,719.227 C2049.4,719.6 2050.6,720.1 2051.36,720.409 C2052.1,720.7 2052.6,720.9 2052.8,721" fill="none" stroke="#646c6c" stroke-width="2.0" stroke-linejoin="round" stroke-linecap="round"/>
<path d="M1341.5,691 C1341.7,690.6 1342.4,689.2 1342.92,688.333 C1343.4,687.4 1343.9,686.6 1344.33,685.667 C1344.8,684.8 1345.3,683.9 1345.75,683 C1346.2,682.1 1346.7,681.2 1347.17,680.333 C1347.6,679.4 1348.1,678.6 1348.59,677.661 C1349.1,676.8 1349.6,675.9 1350.06,674.957 C1350.6,674.0 1351.1,673.1 1351.61,672.195 C1352.1,671.3 1352.7,670.3 1353.2,669.4 C1353.7,668.5 1354.3,667.5 1354.8,666.6 C1355.3,665.7 1355.9,664.7 1356.4,663.8 C1356.9,662.9 1357.5,661.9 1358,661 C1358.5,660.1 1359.1,659.1 1359.6,658.2 C1360.1,657.3 1360.7,656.3 1361.2,655.4 C1361.7,654.5 1362.3,653.5 1362.8,652.6 C1363.3,651.7 1363.9,650.7 1364.39,649.803 C1364.9,648.9 1365.4,647.9 1365.95,647.023 C1366.5,646.1 1367.0,645.2 1367.45,644.276 C1367.9,643.4 1368.4,642.5 1368.91,641.546 C1369.4,640.6 1369.9,639.7 1370.36,638.818 C1370.8,637.9 1371.3,637.0 1371.82,636.089 C1372.3,635.2 1372.8,634.3 1373.27,633.34 C1373.8,632.4 1374.2,631.5 1374.73,630.522 C1375.2,629.6 1375.7,628.6 1376.18,627.635 C1376.7,626.7 1377.2,625.7 1377.64,624.727 C1378.1,623.8 1378.6,622.8 1379.09,621.819 C1379.6,620.9 1380.1,619.9 1380.57,618.932 C1381.1,618.0 1381.6,617.1 1382.21,616.179 C1382.8,615.3 1383.5,614.5 1384.14,613.67 C1384.8,612.9 1385.5,612.1 1386.24,611.295 C1386.9,610.5 1387.6,609.7 1388.35,608.941 C1389.1,608.2 1389.8,607.4 1390.47,606.588 C1391.2,605.8 1391.9,605.0 1392.59,604.235 C1393.3,603.5 1394.0,602.7 1394.71,601.882 C1395.4,601.1 1396.1,600.3 1396.82,599.53 C1397.5,598.7 1398.2,598.0 1398.94,597.181 C1399.6,596.4 1400.3,595.6 1401.05,594.847 C1401.8,594.1 1402.5,593.3 1403.16,592.527 C1403.9,591.8 1404.6,591.0 1405.26,590.211 C1406.0,589.4 1406.7,588.7 1407.37,587.895 C1408.1,587.1 1408.8,586.4 1409.47,585.579 C1410.2,584.8 1410.9,584.0 1411.58,583.263 C1412.3,582.5 1413.0,581.7 1413.68,580.947 C1414.4,580.2 1415.1,579.4 1415.79,578.632 C1416.5,577.9 1417.2,577.1 1417.9,576.325 C1418.6,575.6 1419.3,574.8 1420.05,574.074 C1420.8,573.3 1421.5,572.6 1422.27,571.922 C1423.0,571.2 1423.8,570.5 1424.52,569.826 C1425.3,569.1 1426.0,568.4 1426.78,567.739 C1427.5,567.0 1428.3,566.3 1429.04,565.652 C1429.8,565.0 1430.6,564.3 1431.3,563.565 C1432.1,562.9 1432.8,562.2 1433.57,561.478 C1434.3,560.8 1435.1,560.1 1435.83,559.391 C1436.6,558.7 1437.3,558.0 1438.09,557.304 C1438.8,556.6 1439.6,555.9 1440.35,555.217 C1441.1,554.5 1441.9,553.8 1442.61,553.13 C1443.4,552.4 1444.1,551.7 1444.86,551.043 C1445.6,550.3 1446.3,549.7 1447.08,548.954 C1447.8,548.3 1448.5,547.6 1449.27,546.864 C1450.0,546.2 1450.7,545.5 1451.45,544.773 C1452.2,544.1 1452.9,543.4 1453.64,542.682 C1454.4,542.0 1455.1,541.3 1455.82,540.591 C1456.5,539.9 1457.3,539.2 1458,538.5 C1458.7,537.8 1459.5,537.1 1460.18,536.409 C1460.9,535.7 1461.6,535.0 1462.36,534.318 C1463.1,533.6 1463.8,532.9 1464.55,532.227 C1465.3,531.5 1466.0,530.8 1466.73,530.136 C1467.5,529.4 1468.2,528.7 1468.93,528.036 C1469.7,527.3 1470.4,526.6 1471.19,525.907 C1471.9,525.2 1472.7,524.5 1473.5,523.749 C1474.3,523.0 1475.1,522.3 1475.83,521.583 C1476.6,520.9 1477.4,520.1 1478.17,519.417 C1478.9,518.7 1479.7,518.0 1480.5,517.253 C1481.3,516.5 1482.1,515.8 1482.85,515.125 C1483.6,514.4 1484.4,513.8 1485.25,513.119 C1486.1,512.5 1486.9,511.9 1487.69,511.234 C1488.5,510.6 1489.3,510.0 1490.15,509.385 C1491.0,508.8 1491.8,508.2 1492.62,507.538 C1493.4,506.9 1494.3,506.3 1495.08,505.693 C1495.9,505.1 1496.7,504.5 1497.55,503.86 C1498.4,503.3 1499.2,502.7 1500.07,502.111 C1500.9,501.6 1501.8,501.0 1502.68,500.514 C1503.6,500.0 1504.4,499.5 1505.33,499 C1506.2,498.5 1507.1,498.0 1508,497.5 C1508.9,497.0 1509.8,496.5 1510.67,496 C1511.6,495.5 1512.4,495.0 1513.33,494.488 C1514.2,494.0 1515.1,493.5 1515.95,492.907 C1516.8,492.4 1517.7,491.8 1518.52,491.199 C1519.4,490.6 1520.2,490.0 1521.05,489.421 C1521.9,488.8 1522.7,488.2 1523.58,487.632 C1524.4,487.0 1525.3,486.4 1526.11,485.842 C1526.9,485.2 1527.8,484.6 1528.63,484.053 C1529.5,483.5 1530.3,482.9 1531.16,482.263 C1532.0,481.7 1532.8,481.1 1533.68,480.474 C1534.5,479.9 1535.4,479.3 1536.21,478.688 C1537.1,478.1 1537.9,477.5 1538.78,476.942 C1539.7,476.4 1540.6,475.8 1541.47,475.333 C1542.4,474.8 1543.3,474.3 1544.29,473.861 C1545.2,473.4 1546.2,472.9 1547.14,472.429 C1548.1,472.0 1549.0,471.5 1550,471 C1551.0,470.5 1551.9,470.0 1552.86,469.571 C1553.8,469.1 1554.8,468.6 1555.71,468.138 C1556.6,467.6 1557.6,467.2 1558.5,466.643 C1559.4,466.1 1560.3,465.5 1561.08,464.944 C1561.9,464.3 1562.7,463.7 1563.46,463.041 C1564.2,462.4 1565.0,461.7 1565.77,461.077 C1566.5,460.4 1567.3,459.8 1568.08,459.108 C1568.8,458.5 1569.6,457.8 1570.38,457.139 C1571.2,456.5 1571.9,455.8 1572.7,455.173 C1573.5,454.5 1574.3,453.9 1575.06,453.233 C1575.9,452.6 1576.7,452.0 1577.51,451.338 C1578.3,450.7 1579.2,450.1 1580,449.467 C1580.8,448.8 1581.7,448.2 1582.5,447.6 C1583.3,447.0 1584.2,446.4 1585,445.733 C1585.8,445.1 1586.7,444.5 1587.49,443.849 C1588.3,443.2 1589.1,442.6 1589.89,441.865 C1590.7,441.2 1591.4,440.4 1592.13,439.697 C1592.9,439.0 1593.6,438.2 1594.29,437.428 C1595.0,436.7 1595.7,435.9 1596.43,435.143 C1597.1,434.4 1597.9,433.6 1598.57,432.857 C1599.3,432.1 1600.0,431.3 1600.71,430.571 C1601.4,429.8 1602.1,429.1 1602.85,428.267 C1603.5,427.5 1604.2,426.7 1604.92,425.851 C1605.6,425.0 1606.2,424.1 1606.89,423.231 C1607.5,422.3 1608.2,421.4 1608.8,420.5 C1609.4,419.6 1610.1,418.7 1610.7,417.756 C1611.3,416.8 1612.0,415.9 1612.59,415.048 C1613.2,414.2 1613.8,413.3 1614.46,412.406 C1615.1,411.5 1615.7,410.7 1616.32,409.8 C1616.9,408.9 1617.6,408.1 1618.21,407.2 C1618.9,406.3 1619.5,405.5 1620.22,404.6 C1620.9,403.7 1621.6,402.9 1622.35,402 C1623.1,401.1 1623.8,400.3 1624.48,399.4 C1625.2,398.5 1625.8,397.7 1626.49,396.8 C1627.1,395.9 1627.8,395.1 1628.38,394.2 C1629.0,393.3 1629.6,392.5 1630.23,391.599 C1630.8,390.7 1631.4,389.9 1632.03,388.992 C1632.6,388.1 1633.2,387.2 1633.72,386.374 C1634.3,385.5 1634.8,384.6 1635.35,383.75 C1635.9,382.9 1636.4,382.0 1636.97,381.126 C1637.5,380.3 1638.1,379.4 1638.6,378.508 C1639.1,377.6 1639.7,376.8 1640.22,375.901 C1640.8,375.0 1641.3,374.2 1641.85,373.3 C1642.4,372.4 1642.9,371.6 1643.48,370.7 C1644.0,369.8 1644.6,369.0 1645.17,368.1 C1645.8,367.2 1646.4,366.4 1646.97,365.5 C1647.6,364.6 1648.2,363.8 1648.81,362.9 C1649.4,362.0 1650.1,361.2 1650.67,360.3 C1651.3,359.4 1651.9,358.6 1652.53,357.7 C1653.1,356.8 1653.8,356.0 1654.39,355.1 C1655.0,354.2 1655.6,353.4 1656.24,352.5 C1656.9,351.6 1657.5,350.8 1658.1,349.9 C1658.7,349.0 1659.3,348.2 1659.96,347.3 C1660.6,346.4 1661.2,345.6 1661.82,344.701 C1662.4,343.8 1663.1,343.0 1663.68,342.117 C1664.3,341.3 1664.9,340.4 1665.58,339.584 C1666.2,338.7 1666.9,337.9 1667.5,337.101 C1668.1,336.3 1668.8,335.5 1669.43,334.634 C1670.1,333.8 1670.7,333.0 1671.38,332.176 C1672.0,331.4 1672.7,330.6 1673.39,329.777 C1674.1,329.0 1674.8,328.2 1675.51,327.481 C1676.2,326.7 1677.0,326.0 1677.7,325.24 C1678.4,324.5 1679.2,323.7 1679.88,322.97 C1680.6,322.2 1681.3,321.4 1682.02,320.572 C1682.7,319.8 1683.4,318.9 1684.1,318.047 C1684.8,317.2 1685.5,316.3 1686.17,315.479 C1686.9,314.6 1687.6,313.8 1688.25,312.896 C1689.0,312.0 1689.7,311.2 1690.35,310.299 C1691.0,309.4 1691.7,308.6 1692.41,307.693 C1693.1,306.8 1693.7,305.9 1694.34,305.064 C1695.0,304.2 1695.6,303.3 1696.15,302.414 C1696.8,301.5 1697.3,300.6 1697.93,299.757 C1698.5,298.9 1699.1,298.0 1699.7,297.1 C1700.3,296.2 1700.9,295.3 1701.47,294.443 C1702.1,293.6 1702.7,292.7 1703.24,291.786 C1703.8,290.9 1704.4,290.0 1705.01,289.129 C1705.6,288.2 1706.2,287.4 1706.79,286.471 C1707.4,285.6 1708.0,284.7 1708.56,283.814 C1709.1,282.9 1709.7,282.0 1710.33,281.157 C1710.9,280.3 1711.5,279.4 1712.1,278.5 C1712.7,277.6 1713.3,276.7 1713.87,275.843 C1714.5,275.0 1715.1,274.1 1715.64,273.185 C1716.2,272.3 1716.8,271.4 1717.41,270.525 C1718.0,269.6 1718.6,268.7 1719.19,267.853 C1719.8,267.0 1720.4,266.1 1720.96,265.171 C1721.5,264.3 1722.1,263.4 1722.73,262.487 C1723.3,261.6 1723.9,260.7 1724.5,259.809 C1725.1,258.9 1725.7,258.0 1726.27,257.144 C1726.9,256.3 1727.5,255.4 1728.04,254.485 C1728.6,253.6 1729.2,252.7 1729.79,251.823 C1730.4,250.9 1730.9,250.0 1731.45,249.144 C1732.0,248.2 1732.5,247.3 1733.02,246.45 C1733.5,245.6 1734.1,244.7 1734.58,243.75 C1735.1,242.8 1735.6,241.9 1736.12,241.047 C1736.6,240.1 1737.2,239.2 1737.67,238.334 C1738.2,237.4 1738.7,236.5 1739.23,235.612 C1739.7,234.7 1740.3,233.8 1740.77,232.887 C1741.3,232.0 1741.8,231.1 1742.28,230.153 C1742.8,229.2 1743.2,228.3 1743.68,227.39 C1744.1,226.5 1744.5,225.5 1744.96,224.599 C1745.4,223.7 1745.8,222.7 1746.2,221.8 C1746.6,220.9 1747.0,219.9 1747.44,219 C1747.9,218.1 1748.3,217.1 1748.7,216.206 C1749.1,215.3 1749.6,214.4 1750.01,213.428 C1750.5,212.5 1750.9,211.6 1751.37,210.667 C1751.8,209.7 1752.3,208.8 1752.74,207.911 C1753.2,207.0 1753.7,206.1 1754.12,205.142 C1754.6,204.2 1755.0,203.3 1755.49,202.294 C1755.9,201.3 1756.4,200.3 1756.84,199.301 C1757.3,198.3 1757.7,197.3 1758.18,196.23 C1758.6,195.2 1759.1,194.2 1759.51,193.167 C1759.9,192.2 1760.4,191.2 1760.78,190.174 C1761.2,189.2 1761.6,188.2 1762,187.252 C1762.4,186.3 1762.8,185.3 1763.2,184.349 C1763.6,183.4 1764.0,182.4 1764.41,181.437 C1764.8,180.5 1765.2,179.5 1765.63,178.487 C1766.0,177.5 1766.5,176.5 1766.88,175.499 C1767.3,174.5 1767.7,173.5 1768.12,172.5 C1768.5,171.5 1769.0,170.5 1769.34,169.5 C1769.7,168.5 1770.1,167.5 1770.47,166.5 C1770.8,165.5 1771.2,164.5 1771.5,163.5 C1771.8,162.5 1772.2,161.5 1772.5,160.5 C1772.8,159.5 1773.2,158.5 1773.5,157.5 C1773.8,156.5 1774.2,155.2 1774.5,154.5 C1774.7,153.8 1774.9,153.2 1775,153" fill="none" stroke="#646c6c" stroke-width="2.0" stroke-linejoin="round" stroke-linecap="round"/>
<path d="M1341.5,364 C1341.5,364.5 1341.7,366.0 1341.79,367.059 C1341.9,368.1 1342.0,369.1 1342.09,370.118 C1342.2,371.1 1342.3,372.2 1342.38,373.176 C1342.5,374.2 1342.6,375.2 1342.68,376.235 C1342.8,377.3 1342.9,378.3 1342.97,379.294 C1343.1,380.3 1343.2,381.3 1343.26,382.353 C1343.4,383.4 1343.5,384.4 1343.56,385.411 C1343.7,386.4 1343.8,387.4 1343.85,388.463 C1344.0,389.5 1344.1,390.5 1344.15,391.492 C1344.3,392.5 1344.4,393.5 1344.45,394.499 C1344.5,395.5 1344.6,396.5 1344.75,397.5 C1344.9,398.5 1344.9,399.5 1345.05,400.501 C1345.2,401.5 1345.3,402.5 1345.35,403.515 C1345.5,404.5 1345.6,405.5 1345.67,406.57 C1345.8,407.6 1345.9,408.6 1346,409.668 C1346.1,410.7 1346.2,411.7 1346.33,412.778 C1346.4,413.8 1346.6,414.9 1346.67,415.895 C1346.8,416.9 1346.9,418.0 1347.05,419.045 C1347.2,420.1 1347.3,421.2 1347.51,422.256 C1347.7,423.3 1347.8,424.4 1348,425.5 C1348.2,426.6 1348.3,427.7 1348.5,428.743 C1348.7,429.8 1348.8,430.9 1348.99,431.944 C1349.1,433.0 1349.3,434.0 1349.46,435.07 C1349.6,436.1 1349.8,437.1 1349.92,438.154 C1350.1,439.2 1350.2,440.2 1350.38,441.231 C1350.5,442.3 1350.7,443.3 1350.85,444.308 C1351.0,445.3 1351.1,446.4 1351.31,447.382 C1351.5,448.4 1351.6,449.4 1351.87,450.425 C1352.1,451.4 1352.4,452.4 1352.7,453.364 C1353.0,454.3 1353.4,455.3 1353.81,456.197 C1354.2,457.1 1354.6,458.1 1355,459 C1355.4,459.9 1355.8,460.9 1356.21,461.795 C1356.6,462.7 1357.0,463.7 1357.54,464.533 C1358.1,465.4 1358.6,466.3 1359.29,467.075 C1359.9,467.9 1360.7,468.7 1361.44,469.423 C1362.2,470.2 1363.0,471.0 1363.72,471.703 C1364.5,472.5 1365.3,473.2 1366.04,473.908 C1366.8,474.6 1367.6,475.3 1368.4,475.988 C1369.2,476.7 1370.0,477.3 1370.8,478 C1371.6,478.7 1372.4,479.3 1373.2,480 C1374.0,480.7 1374.8,481.3 1375.59,482.007 C1376.4,482.7 1377.2,483.4 1377.93,484.058 C1378.7,484.8 1379.4,485.5 1380.17,486.189 C1380.9,486.9 1381.6,487.6 1382.36,488.364 C1383.1,489.1 1383.8,489.8 1384.55,490.545 C1385.3,491.3 1386.0,492.0 1386.73,492.726 C1387.5,493.4 1388.2,494.2 1388.92,494.885 C1389.7,495.6 1390.4,496.3 1391.16,496.976 C1391.9,497.7 1392.7,498.3 1393.43,498.998 C1394.2,499.7 1395.0,500.3 1395.71,501 C1396.5,501.7 1397.2,502.3 1398,503 C1398.8,503.7 1399.5,504.3 1400.29,505 C1401.0,505.7 1401.8,506.3 1402.57,507.001 C1403.3,507.7 1404.1,508.3 1404.84,509.017 C1405.6,509.7 1406.3,510.4 1407.05,511.084 C1407.8,511.8 1408.5,512.5 1409.2,513.201 C1409.9,513.9 1410.6,514.6 1411.33,515.333 C1412.0,516.0 1412.8,516.8 1413.47,517.467 C1414.2,518.2 1414.9,518.9 1415.6,519.6 C1416.3,520.3 1417.0,521.0 1417.73,521.733 C1418.4,522.4 1419.2,523.2 1419.87,523.861 C1420.6,524.6 1421.3,525.3 1422.05,525.957 C1422.8,526.6 1423.5,527.3 1424.29,527.995 C1425.0,528.7 1425.8,529.3 1426.57,530 C1427.3,530.7 1428.1,531.3 1428.86,532 C1429.6,532.7 1430.4,533.3 1431.14,534 C1431.9,534.7 1432.7,535.3 1433.43,536 C1434.2,536.7 1435.0,537.3 1435.72,537.994 C1436.5,538.7 1437.3,539.3 1438.06,539.951 C1438.8,540.6 1439.7,541.2 1440.47,541.84 C1441.3,542.5 1442.1,543.1 1442.92,543.692 C1443.7,544.3 1444.6,544.9 1445.38,545.538 C1446.2,546.2 1447.0,546.8 1447.85,547.385 C1448.7,548.0 1449.5,548.6 1450.31,549.233 C1451.1,549.9 1451.9,550.5 1452.75,551.113 C1453.6,551.8 1454.4,552.4 1455.16,553.094 C1456.0,553.8 1456.7,554.5 1457.53,555.179 C1458.3,555.9 1459.1,556.6 1459.88,557.294 C1460.7,558.0 1461.5,558.7 1462.24,559.412 C1463.0,560.1 1463.8,560.8 1464.59,561.529 C1465.4,562.2 1466.2,562.9 1466.94,563.647 C1467.7,564.4 1468.5,565.1 1469.29,565.765 C1470.1,566.5 1470.9,567.2 1471.64,567.887 C1472.4,568.6 1473.2,569.3 1473.96,570.034 C1474.7,570.8 1475.5,571.5 1476.22,572.227 C1477.0,573.0 1477.7,573.7 1478.44,574.445 C1479.2,575.2 1479.9,575.9 1480.67,576.667 C1481.4,577.4 1482.1,578.1 1482.89,578.889 C1483.6,579.6 1484.4,580.4 1485.11,581.111 C1485.9,581.9 1486.6,582.6 1487.33,583.333 C1488.1,584.1 1488.8,584.8 1489.56,585.556 C1490.3,586.3 1491.0,587.0 1491.77,587.782 C1492.5,588.5 1493.2,589.3 1493.96,590.03 C1494.7,590.8 1495.4,591.6 1496.1,592.32 C1496.8,593.1 1497.5,593.9 1498.21,594.632 C1498.9,595.4 1499.6,596.2 1500.32,596.947 C1501.0,597.7 1501.7,598.5 1502.42,599.263 C1503.1,600.0 1503.8,600.8 1504.53,601.579 C1505.2,602.4 1505.9,603.1 1506.63,603.895 C1507.3,604.7 1508.0,605.4 1508.74,606.211 C1509.4,607.0 1510.1,607.8 1510.84,608.523 C1511.5,609.3 1512.3,610.1 1512.97,610.801 C1513.7,611.5 1514.4,612.3 1515.17,612.959 C1515.9,613.7 1516.7,614.3 1517.43,614.997 C1518.2,615.7 1519.0,616.3 1519.71,617 C1520.5,617.7 1521.2,618.3 1522,619 C1522.8,619.7 1523.5,620.3 1524.29,621 C1525.0,621.7 1525.8,622.3 1526.58,622.995 C1527.4,623.7 1528.1,624.3 1528.95,624.934 C1529.8,625.5 1530.7,626.1 1531.59,626.684 C1532.5,627.2 1533.5,627.7 1534.51,628.245 C1535.5,628.8 1536.5,629.3 1537.5,629.74 C1538.5,630.2 1539.5,630.7 1540.5,631.108 C1541.5,631.5 1542.5,631.8 1543.5,632.066 C1544.5,632.3 1545.5,632.5 1546.5,632.615 C1547.5,632.8 1548.5,632.9 1549.5,633.042 C1550.5,633.2 1551.5,633.3 1552.5,633.458 C1553.5,633.6 1554.5,633.7 1555.5,633.872 C1556.5,634.0 1557.5,634.1 1558.51,634.245 C1559.5,634.3 1560.5,634.4 1561.54,634.482 C1562.6,634.5 1563.6,634.6 1564.59,634.585 C1565.6,634.6 1566.6,634.6 1567.65,634.647 C1568.7,634.7 1569.7,634.7 1570.71,634.706 C1571.7,634.7 1572.7,634.7 1573.76,634.765 C1574.8,634.8 1575.8,634.8 1576.82,634.824 C1577.8,634.8 1578.9,634.9 1579.88,634.883 C1580.9,634.9 1581.9,634.9 1582.94,634.955 C1584.0,635.0 1585.0,635.0 1586,635.11 C1587.0,635.2 1588.0,635.3 1589.06,635.414 C1590.1,635.5 1591.1,635.7 1592.12,635.8 C1593.1,635.9 1594.2,636.1 1595.18,636.2 C1596.2,636.3 1597.2,636.5 1598.24,636.6 C1599.3,636.7 1600.3,636.9 1601.29,637 C1602.3,637.1 1603.3,637.3 1604.35,637.4 C1605.4,637.5 1606.4,637.7 1607.41,637.803 C1608.4,637.9 1609.4,638.1 1610.46,638.24 C1611.5,638.4 1612.5,638.6 1613.5,638.794 C1614.5,639.0 1615.5,639.2 1616.52,639.464 C1617.5,639.7 1618.5,639.9 1619.54,640.169 C1620.5,640.4 1621.5,640.6 1622.55,640.877 C1623.6,641.1 1624.6,641.3 1625.57,641.585 C1626.6,641.8 1627.6,642.1 1628.58,642.295 C1629.6,642.5 1630.6,642.8 1631.59,643.02 C1632.6,643.3 1633.6,643.5 1634.58,643.772 C1635.6,644.0 1636.6,644.3 1637.57,644.539 C1638.6,644.8 1639.6,645.1 1640.55,645.308 C1641.5,645.6 1642.5,645.8 1643.54,646.077 C1644.5,646.3 1645.5,646.6 1646.52,646.851 C1647.5,647.1 1648.5,647.4 1649.48,647.689 C1650.5,648.0 1651.4,648.4 1652.38,648.738 C1653.3,649.1 1654.3,649.6 1655.2,649.998 C1656.1,650.4 1657.1,650.9 1658,651.321 C1658.9,651.8 1659.9,652.2 1660.8,652.65 C1661.7,653.1 1662.7,653.5 1663.6,653.979 C1664.5,654.4 1665.5,654.9 1666.4,655.309 C1667.3,655.8 1668.3,656.2 1669.2,656.656 C1670.1,657.1 1671.1,657.6 1671.98,658.063 C1672.9,658.5 1673.8,659.0 1674.76,659.53 C1675.7,660.0 1676.6,660.5 1677.53,661.014 C1678.5,661.5 1679.4,662.0 1680.3,662.5 C1681.2,663.0 1682.1,663.5 1683.07,663.986 C1684.0,664.5 1684.9,665.0 1685.84,665.474 C1686.8,666.0 1687.7,666.5 1688.57,666.997 C1689.5,667.5 1690.3,668.1 1691.19,668.633 C1692.0,669.2 1692.9,669.8 1693.69,670.384 C1694.5,671.0 1695.3,671.6 1696.16,672.169 C1697.0,672.8 1697.8,673.4 1698.62,673.956 C1699.4,674.6 1700.3,675.1 1701.08,675.744 C1701.9,676.3 1702.7,676.9 1703.54,677.531 C1704.4,678.1 1705.2,678.7 1706.01,679.319 C1706.8,679.9 1707.6,680.5 1708.46,681.106 C1709.3,681.7 1710.1,682.3 1710.9,682.894 C1711.7,683.5 1712.5,684.1 1713.32,684.681 C1714.1,685.3 1714.9,685.9 1715.73,686.469 C1716.5,687.1 1717.3,687.7 1718.14,688.256 C1718.9,688.9 1719.8,689.4 1720.56,690.044 C1721.4,690.6 1722.2,691.2 1722.97,691.831 C1723.8,692.4 1724.6,693.0 1725.39,693.616 C1726.2,694.2 1727.0,694.8 1727.85,695.367 C1728.7,695.9 1729.6,696.5 1730.46,697.003 C1731.4,697.5 1732.3,698.0 1733.23,698.526 C1734.2,699.0 1735.1,699.5 1736.04,700.014 C1737.0,700.5 1737.9,701.0 1738.85,701.5 C1739.8,702.0 1740.7,702.5 1741.66,702.986 C1742.6,703.5 1743.5,704.0 1744.48,704.471 C1745.4,705.0 1746.4,705.5 1747.29,705.955 C1748.2,706.4 1749.1,706.9 1750.07,707.434 C1751.0,707.9 1751.9,708.4 1752.84,708.907 C1753.8,709.4 1754.7,709.9 1755.59,710.379 C1756.5,710.9 1757.4,711.4 1758.35,711.85 C1759.3,712.3 1760.2,712.8 1761.11,713.321 C1762.0,713.8 1762.9,714.3 1763.87,714.793 C1764.8,715.3 1765.7,715.8 1766.66,716.27 C1767.6,716.8 1768.6,717.3 1769.57,717.763 C1770.6,718.3 1771.6,718.8 1772.59,719.272 C1773.6,719.8 1774.6,720.3 1775.64,720.786 C1776.7,721.3 1778.2,722.0 1778.7,722.3" fill="none" stroke="#f24c56" stroke-width="2.0" stroke-linejoin="round" stroke-linecap="round"/>
<path d="M1341.5,690 C1341.7,689.6 1342.4,688.2 1342.92,687.333 C1343.4,686.4 1343.9,685.6 1344.33,684.667 C1344.8,683.8 1345.3,682.9 1345.75,682 C1346.2,681.1 1346.7,680.2 1347.17,679.333 C1347.6,678.4 1348.1,677.6 1348.58,676.664 C1349.1,675.8 1349.5,674.9 1350.01,673.981 C1350.5,673.1 1351.0,672.2 1351.46,671.27 C1351.9,670.4 1352.4,669.5 1352.91,668.545 C1353.4,667.6 1353.9,666.7 1354.36,665.818 C1354.8,664.9 1355.3,664.0 1355.82,663.09 C1356.3,662.2 1356.8,661.3 1357.29,660.354 C1357.8,659.4 1358.3,658.5 1358.82,657.59 C1359.3,656.7 1359.9,655.7 1360.4,654.799 C1360.9,653.9 1361.5,652.9 1362,652 C1362.5,651.1 1363.1,650.1 1363.6,649.201 C1364.1,648.3 1364.7,647.3 1365.18,646.41 C1365.7,645.5 1366.2,644.6 1366.71,643.646 C1367.2,642.7 1367.7,641.8 1368.18,640.91 C1368.7,640.0 1369.2,639.1 1369.64,638.182 C1370.1,637.3 1370.6,636.4 1371.09,635.455 C1371.6,634.5 1372.1,633.6 1372.55,632.731 C1373.0,631.8 1373.5,630.9 1374.01,630.033 C1374.5,629.1 1375.0,628.3 1375.5,627.379 C1376.0,626.5 1376.5,625.6 1377,624.75 C1377.5,623.9 1378.0,623.0 1378.5,622.125 C1379.0,621.2 1379.5,620.4 1380,619.5 C1380.5,618.6 1381.0,617.7 1381.5,616.875 C1382.0,616.0 1382.5,615.1 1383,614.25 C1383.5,613.4 1384.0,612.5 1384.51,611.627 C1385.0,610.8 1385.5,609.9 1386.07,609.017 C1386.6,608.2 1387.2,607.3 1387.72,606.431 C1388.3,605.6 1388.9,604.7 1389.43,603.857 C1390.0,603.0 1390.6,602.1 1391.14,601.286 C1391.7,600.4 1392.3,599.6 1392.86,598.714 C1393.4,597.9 1394.0,597.0 1394.57,596.143 C1395.1,595.3 1395.7,594.4 1396.3,593.585 C1396.9,592.7 1397.5,591.9 1398.09,591.103 C1398.7,590.3 1399.4,589.5 1400.01,588.763 C1400.7,588.0 1401.3,587.3 1402,586.5 C1402.7,585.7 1403.3,585.0 1404,584.25 C1404.7,583.5 1405.3,582.8 1406,582 C1406.7,581.2 1407.3,580.5 1408,579.75 C1408.7,579.0 1409.3,578.2 1410,577.5 C1410.7,576.7 1411.3,576.0 1412,575.25 C1412.7,574.5 1413.3,573.7 1414,573 C1414.7,572.2 1415.3,571.5 1416,570.75 C1416.7,570.0 1417.3,569.2 1418,568.5 C1418.7,567.7 1419.3,567.0 1420,566.25 C1420.7,565.5 1421.3,564.8 1422,564 C1422.7,563.2 1423.3,562.5 1424,561.75 C1424.7,561.0 1425.3,560.2 1426,559.5 C1426.7,558.8 1427.3,558.0 1428,557.252 C1428.7,556.5 1429.3,555.8 1430.03,555.013 C1430.7,554.3 1431.4,553.5 1432.11,552.791 C1432.8,552.1 1433.5,551.3 1434.21,550.579 C1434.9,549.8 1435.6,549.1 1436.32,548.368 C1437.0,547.6 1437.7,546.9 1438.42,546.158 C1439.1,545.4 1439.8,544.7 1440.53,543.947 C1441.2,543.2 1441.9,542.5 1442.63,541.737 C1443.3,541.0 1444.0,540.3 1444.74,539.526 C1445.4,538.8 1446.1,538.1 1446.84,537.316 C1447.5,536.6 1448.2,535.8 1448.95,535.108 C1449.6,534.4 1450.3,533.6 1451.05,532.907 C1451.7,532.2 1452.4,531.4 1453.14,530.714 C1453.8,530.0 1454.5,529.3 1455.24,528.524 C1455.9,527.8 1456.6,527.1 1457.33,526.333 C1458.0,525.6 1458.7,524.9 1459.43,524.143 C1460.1,523.4 1460.8,522.7 1461.52,521.952 C1462.2,521.2 1462.9,520.5 1463.62,519.762 C1464.3,519.0 1465.0,518.3 1465.71,517.571 C1466.4,516.8 1467.1,516.1 1467.81,515.381 C1468.5,514.7 1469.2,513.9 1469.91,513.198 C1470.6,512.5 1471.3,511.8 1472.07,511.061 C1472.8,510.4 1473.6,509.7 1474.32,509.008 C1475.1,508.3 1475.9,507.7 1476.63,507 C1477.4,506.3 1478.2,505.7 1478.95,505 C1479.7,504.3 1480.5,503.7 1481.26,503 C1482.0,502.3 1482.8,501.7 1483.58,501 C1484.4,500.3 1485.1,499.7 1485.89,499 C1486.7,498.3 1487.4,497.7 1488.21,497 C1489.0,496.3 1489.8,495.7 1490.53,495.003 C1491.3,494.3 1492.1,493.7 1492.88,493.046 C1493.7,492.4 1494.5,491.8 1495.33,491.223 C1496.2,490.6 1497.0,490.1 1497.88,489.533 C1498.7,489.0 1499.6,488.4 1500.47,487.882 C1501.3,487.3 1502.2,486.8 1503.06,486.235 C1503.9,485.7 1504.8,485.1 1505.65,484.588 C1506.5,484.0 1507.4,483.5 1508.24,482.941 C1509.1,482.4 1510.0,481.8 1510.82,481.294 C1511.7,480.7 1512.5,480.2 1513.41,479.649 C1514.3,479.1 1515.1,478.6 1516.03,478.015 C1516.9,477.5 1517.8,476.9 1518.67,476.402 C1519.6,475.9 1520.4,475.3 1521.33,474.8 C1522.2,474.3 1523.1,473.7 1524,473.2 C1524.9,472.7 1525.8,472.1 1526.67,471.6 C1527.6,471.1 1528.4,470.5 1529.33,470 C1530.2,469.5 1531.1,468.9 1532,468.398 C1532.9,467.9 1533.8,467.3 1534.63,466.774 C1535.5,466.2 1536.3,465.7 1537.17,465.074 C1538.0,464.5 1538.8,463.9 1539.6,463.298 C1540.4,462.7 1541.2,462.1 1542,461.5 C1542.8,460.9 1543.6,460.3 1544.4,459.7 C1545.2,459.1 1546.0,458.5 1546.83,457.894 C1547.7,457.3 1548.5,456.7 1549.37,456.072 C1550.2,455.5 1551.1,454.8 1552,454.233 C1552.9,453.6 1553.8,453.0 1554.67,452.389 C1555.6,451.8 1556.4,451.2 1557.32,450.534 C1558.2,449.9 1559.1,449.3 1559.88,448.615 C1560.7,448.0 1561.5,447.3 1562.29,446.581 C1563.1,445.9 1563.8,445.2 1564.61,444.484 C1565.4,443.8 1566.2,443.1 1566.92,442.377 C1567.7,441.7 1568.5,441.0 1569.23,440.269 C1570.0,439.6 1570.8,438.9 1571.54,438.158 C1572.3,437.4 1573.1,436.7 1573.8,436.005 C1574.5,435.3 1575.2,434.5 1575.94,433.713 C1576.6,432.9 1577.3,432.1 1577.95,431.281 C1578.6,430.5 1579.3,429.6 1579.92,428.808 C1580.6,428.0 1581.2,427.2 1581.89,426.331 C1582.5,425.5 1583.2,424.7 1583.86,423.854 C1584.5,423.0 1585.2,422.2 1585.84,421.372 C1586.5,420.5 1587.2,419.7 1587.84,418.86 C1588.5,418.0 1589.2,417.2 1589.88,416.295 C1590.6,415.4 1591.3,414.6 1591.93,413.7 C1592.6,412.8 1593.3,412.0 1593.9,411.1 C1594.5,410.2 1595.2,409.4 1595.78,408.5 C1596.4,407.6 1597.0,406.8 1597.63,405.9 C1598.2,405.0 1598.8,404.2 1599.43,403.3 C1600.0,402.4 1600.6,401.6 1601.12,400.7 C1601.7,399.8 1602.2,399.0 1602.75,398.1 C1603.3,397.2 1603.8,396.4 1604.38,395.499 C1604.9,394.6 1605.5,393.8 1606.01,392.892 C1606.6,392.0 1607.1,391.1 1607.65,390.274 C1608.2,389.4 1608.8,388.5 1609.3,387.65 C1609.8,386.8 1610.4,385.9 1610.95,385.026 C1611.5,384.2 1612.0,383.3 1612.59,382.408 C1613.1,381.5 1613.7,380.7 1614.22,379.801 C1614.8,378.9 1615.3,378.1 1615.85,377.2 C1616.4,376.3 1616.9,375.5 1617.48,374.6 C1618.0,373.7 1618.6,372.9 1619.17,372 C1619.8,371.1 1620.4,370.3 1620.97,369.4 C1621.6,368.5 1622.2,367.7 1622.81,366.8 C1623.4,365.9 1624.1,365.1 1624.67,364.2 C1625.3,363.3 1625.9,362.5 1626.53,361.6 C1627.1,360.7 1627.8,359.9 1628.39,359 C1629.0,358.1 1629.6,357.3 1630.23,356.4 C1630.8,355.5 1631.4,354.7 1632.03,353.8 C1632.6,352.9 1633.2,352.1 1633.72,351.2 C1634.3,350.3 1634.8,349.5 1635.35,348.6 C1635.9,347.7 1636.4,346.9 1636.98,346 C1637.5,345.1 1638.1,344.3 1638.67,343.4 C1639.3,342.5 1639.9,341.7 1640.47,340.8 C1641.1,339.9 1641.7,339.1 1642.32,338.2 C1642.9,337.3 1643.6,336.5 1644.21,335.6 C1644.9,334.7 1645.5,333.9 1646.22,333 C1646.9,332.1 1647.6,331.3 1648.35,330.4 C1649.1,329.5 1649.8,328.7 1650.52,327.796 C1651.2,326.9 1652.0,326.1 1652.68,325.179 C1653.4,324.3 1654.1,323.4 1654.85,322.55 C1655.6,321.7 1656.3,320.8 1656.98,319.921 C1657.7,319.0 1658.3,318.2 1658.99,317.304 C1659.6,316.4 1660.3,315.6 1660.88,314.7 C1661.5,313.8 1662.1,313.0 1662.74,312.1 C1663.4,311.2 1664.0,310.4 1664.6,309.5 C1665.2,308.6 1665.8,307.8 1666.46,306.9 C1667.1,306.0 1667.7,305.2 1668.31,304.3 C1668.9,303.4 1669.5,302.6 1670.16,301.7 C1670.8,300.8 1671.4,300.0 1671.97,299.1 C1672.6,298.2 1673.2,297.4 1673.75,296.494 C1674.3,295.6 1674.9,294.7 1675.56,293.822 C1676.2,292.9 1676.8,291.9 1677.47,290.957 C1678.1,290.0 1678.8,289.0 1679.46,288.076 C1680.1,287.2 1680.8,286.3 1681.42,285.511 C1682.1,284.7 1682.7,283.9 1683.35,283.151 C1684.0,282.4 1684.6,281.6 1685.27,280.806 C1685.9,280.0 1686.5,279.2 1687.14,278.355 C1687.7,277.5 1688.3,276.6 1688.93,275.704 C1689.5,274.8 1690.1,273.9 1690.67,272.944 C1691.2,272.0 1691.8,271.1 1692.4,270.167 C1693.0,269.2 1693.6,268.3 1694.13,267.392 C1694.7,266.5 1695.3,265.5 1695.87,264.625 C1696.4,263.7 1697.0,262.8 1697.6,261.867 C1698.2,260.9 1698.8,260.0 1699.33,259.111 C1699.9,258.2 1700.5,257.3 1701.07,256.358 C1701.7,255.4 1702.3,254.5 1702.86,253.618 C1703.5,252.7 1704.1,251.8 1704.73,250.902 C1705.4,250.0 1706.0,249.1 1706.65,248.2 C1707.3,247.3 1707.9,246.4 1708.56,245.496 C1709.2,244.6 1709.8,243.7 1710.38,242.768 C1711.0,241.9 1711.5,240.9 1712.04,239.996 C1712.6,239.1 1713.1,238.1 1713.62,237.2 C1714.1,236.3 1714.7,235.3 1715.18,234.4 C1715.7,233.5 1716.2,232.5 1716.75,231.602 C1717.3,230.7 1717.8,229.7 1718.35,228.814 C1718.9,227.9 1719.5,227.0 1720.02,226.046 C1720.6,225.1 1721.2,224.2 1721.72,223.289 C1722.3,222.4 1722.9,221.5 1723.43,220.534 C1724.0,219.6 1724.6,218.7 1725.13,217.782 C1725.7,216.9 1726.2,216.0 1726.77,215.042 C1727.3,214.1 1727.8,213.2 1728.36,212.313 C1728.9,211.4 1729.4,210.5 1729.93,209.587 C1730.5,208.7 1731.0,207.8 1731.47,206.855 C1732.0,205.9 1732.4,205.0 1732.88,204.103 C1733.3,203.2 1733.7,202.3 1734.16,201.329 C1734.6,200.4 1735.0,199.5 1735.4,198.55 C1735.8,197.6 1736.2,196.7 1736.64,195.77 C1737.1,194.8 1737.5,193.9 1737.88,192.987 C1738.3,192.1 1738.7,191.1 1739.14,190.197 C1739.6,189.3 1740.0,188.3 1740.41,187.4 C1740.8,186.5 1741.3,185.5 1741.68,184.6 C1742.1,183.7 1742.5,182.7 1742.95,181.8 C1743.4,180.9 1743.8,179.9 1744.22,179 C1744.6,178.1 1745.1,177.1 1745.49,176.2 C1745.9,175.3 1746.3,174.3 1746.77,173.404 C1747.2,172.5 1747.6,171.5 1748.05,170.619 C1748.5,169.7 1748.9,168.8 1749.34,167.846 C1749.8,166.9 1750.2,166.0 1750.63,165.077 C1751.1,164.2 1751.5,163.2 1751.92,162.308 C1752.4,161.4 1752.8,160.5 1753.22,159.538 C1753.6,158.6 1754.1,157.7 1754.51,156.769 C1754.9,155.8 1755.6,154.5 1755.8,154" fill="none" stroke="#f24c56" stroke-width="2.0" stroke-linejoin="round" stroke-linecap="round"/>
<path d="M1341.5,350 C1341.6,350.5 1341.8,352.1 1341.88,353.125 C1342.0,354.2 1342.1,355.2 1342.25,356.25 C1342.4,357.3 1342.5,358.3 1342.62,359.375 C1342.7,360.4 1342.9,361.5 1343,362.5 C1343.1,363.5 1343.3,364.6 1343.37,365.625 C1343.5,366.7 1343.6,367.7 1343.75,368.75 C1343.9,369.8 1344.0,370.8 1344.12,371.874 C1344.2,372.9 1344.4,374.0 1344.47,374.996 C1344.6,376.0 1344.7,377.1 1344.77,378.111 C1344.9,379.1 1345.0,380.2 1345.06,381.222 C1345.1,382.3 1345.2,383.3 1345.33,384.333 C1345.4,385.4 1345.5,386.4 1345.61,387.444 C1345.7,388.5 1345.8,389.5 1345.89,390.556 C1346.0,391.6 1346.1,392.6 1346.17,393.667 C1346.3,394.7 1346.4,395.7 1346.44,396.778 C1346.5,397.8 1346.6,398.9 1346.73,399.893 C1346.8,400.9 1346.9,402.0 1347.07,403.029 C1347.2,404.1 1347.4,405.1 1347.51,406.204 C1347.7,407.3 1347.8,408.3 1348,409.4 C1348.2,410.5 1348.3,411.5 1348.5,412.6 C1348.7,413.7 1348.8,414.7 1348.99,415.798 C1349.1,416.9 1349.3,417.9 1349.43,418.982 C1349.6,420.0 1349.7,421.1 1349.78,422.141 C1349.9,423.2 1350.0,424.2 1350.07,425.285 C1350.2,426.3 1350.3,427.4 1350.36,428.424 C1350.5,429.5 1350.6,430.5 1350.67,431.551 C1350.8,432.6 1350.9,433.6 1351,434.666 C1351.1,435.7 1351.2,436.7 1351.33,437.778 C1351.4,438.8 1351.5,439.9 1351.69,440.889 C1351.8,441.9 1352.0,443.0 1352.18,444 C1352.4,445.0 1352.6,446.1 1352.91,447.111 C1353.2,448.1 1353.5,449.2 1353.78,450.222 C1354.1,451.3 1354.4,452.3 1354.67,453.332 C1355.0,454.4 1355.3,455.4 1355.64,456.43 C1356.0,457.5 1356.4,458.5 1356.83,459.485 C1357.3,460.5 1357.8,461.5 1358.26,462.499 C1358.7,463.5 1359.2,464.5 1359.76,465.493 C1360.3,466.5 1360.8,467.5 1361.35,468.406 C1361.9,469.3 1362.6,470.2 1363.25,471.049 C1363.9,471.9 1364.7,472.6 1365.44,473.421 C1366.2,474.2 1367.0,475.0 1367.72,475.703 C1368.5,476.5 1369.3,477.2 1370.07,477.908 C1370.9,478.6 1371.7,479.3 1372.51,479.988 C1373.3,480.7 1374.2,481.3 1375,482 C1375.8,482.7 1376.7,483.3 1377.49,484.007 C1378.3,484.7 1379.1,485.4 1379.9,486.058 C1380.7,486.8 1381.4,487.5 1382.17,488.189 C1382.9,488.9 1383.6,489.6 1384.36,490.364 C1385.1,491.1 1385.8,491.8 1386.55,492.545 C1387.3,493.3 1388.0,494.0 1388.73,494.726 C1389.5,495.4 1390.2,496.2 1390.93,496.885 C1391.7,497.6 1392.4,498.3 1393.19,498.976 C1393.9,499.7 1394.7,500.3 1395.5,500.998 C1396.3,501.7 1397.1,502.3 1397.83,503 C1398.6,503.7 1399.4,504.3 1400.17,505 C1400.9,505.7 1401.7,506.3 1402.5,507.001 C1403.3,507.7 1404.1,508.3 1404.81,509.017 C1405.6,509.7 1406.3,510.4 1407.04,511.084 C1407.8,511.8 1408.5,512.5 1409.2,513.201 C1409.9,513.9 1410.6,514.6 1411.33,515.333 C1412.0,516.0 1412.8,516.8 1413.47,517.467 C1414.2,518.2 1414.9,518.9 1415.6,519.6 C1416.3,520.3 1417.0,521.0 1417.73,521.733 C1418.4,522.4 1419.2,523.2 1419.87,523.861 C1420.6,524.6 1421.3,525.3 1422.05,525.957 C1422.8,526.6 1423.5,527.3 1424.29,527.995 C1425.0,528.7 1425.8,529.3 1426.57,530 C1427.3,530.7 1428.1,531.3 1428.86,532 C1429.6,532.7 1430.4,533.3 1431.14,534 C1431.9,534.7 1432.7,535.3 1433.43,536 C1434.2,536.7 1435.0,537.3 1435.72,538 C1436.5,538.7 1437.3,539.3 1438.04,540 C1438.8,540.7 1439.6,541.3 1440.4,542 C1441.2,542.7 1442.0,543.3 1442.8,544 C1443.6,544.7 1444.4,545.3 1445.2,546 C1446.0,546.7 1446.8,547.3 1447.59,548.013 C1448.4,548.7 1449.2,549.4 1449.91,550.101 C1450.7,550.8 1451.4,551.6 1452.09,552.329 C1452.8,553.1 1453.5,553.9 1454.21,554.632 C1454.9,555.4 1455.6,556.2 1456.32,556.947 C1457.0,557.7 1457.7,558.5 1458.42,559.263 C1459.1,560.0 1459.8,560.8 1460.53,561.579 C1461.2,562.4 1461.9,563.1 1462.63,563.895 C1463.3,564.7 1464.0,565.4 1464.74,566.211 C1465.4,567.0 1466.1,567.8 1466.84,568.525 C1467.5,569.3 1468.2,570.1 1468.96,570.83 C1469.7,571.6 1470.4,572.3 1471.13,573.099 C1471.9,573.8 1472.6,574.6 1473.33,575.332 C1474.1,576.1 1474.8,576.8 1475.56,577.556 C1476.3,578.3 1477.0,579.0 1477.78,579.778 C1478.5,580.5 1479.3,581.3 1480,582 C1480.7,582.7 1481.5,583.5 1482.22,584.222 C1483.0,585.0 1483.7,585.7 1484.44,586.444 C1485.2,587.2 1485.9,587.9 1486.66,588.668 C1487.4,589.4 1488.1,590.2 1488.86,590.912 C1489.6,591.7 1490.3,592.4 1490.97,593.223 C1491.7,594.0 1492.3,594.8 1493,595.602 C1493.7,596.4 1494.3,597.2 1495,598 C1495.7,598.8 1496.3,599.6 1497,600.4 C1497.7,601.2 1498.3,602.0 1499,602.8 C1499.7,603.6 1500.3,604.4 1501,605.2 C1501.7,606.0 1502.3,606.8 1503,607.6 C1503.7,608.4 1504.3,609.2 1505,610 C1505.7,610.8 1506.3,611.6 1507,612.398 C1507.7,613.2 1508.3,614.0 1509.02,614.771 C1509.7,615.5 1510.4,616.3 1511.11,617.062 C1511.8,617.8 1512.6,618.5 1513.27,619.271 C1514.0,620.0 1514.7,620.7 1515.45,621.455 C1516.2,622.2 1516.9,622.9 1517.64,623.635 C1518.4,624.4 1519.1,625.1 1519.84,625.778 C1520.6,626.5 1521.4,627.1 1522.2,627.685 C1523.0,628.2 1523.9,628.7 1524.83,629.16 C1525.7,629.6 1526.7,630.0 1527.6,630.399 C1528.5,630.8 1529.5,631.2 1530.4,631.599 C1531.3,632.0 1532.3,632.4 1533.21,632.766 C1534.2,633.1 1535.1,633.5 1536.06,633.735 C1537.0,634.0 1538.0,634.2 1539.01,634.341 C1540.0,634.5 1541.0,634.6 1542,634.749 C1543.0,634.9 1544.0,635.0 1545,635.125 C1546.0,635.3 1547.0,635.4 1548,635.5 C1549.0,635.6 1550.0,635.8 1551,635.875 C1552.0,636.0 1553.0,636.1 1554,636.25 C1555.0,636.4 1556.0,636.5 1557,636.623 C1558.0,636.7 1559.0,636.9 1560.02,636.982 C1561.0,637.1 1562.0,637.2 1563.06,637.315 C1564.1,637.4 1565.1,637.5 1566.12,637.635 C1567.1,637.7 1568.2,637.8 1569.18,637.953 C1570.2,638.1 1571.2,638.2 1572.24,638.271 C1573.3,638.4 1574.3,638.5 1575.29,638.588 C1576.3,638.7 1577.3,638.8 1578.35,638.906 C1579.4,639.0 1580.4,639.1 1581.41,639.224 C1582.4,639.3 1583.5,639.4 1584.47,639.55 C1585.5,639.7 1586.5,639.8 1587.53,639.903 C1588.5,640.0 1589.6,640.2 1590.59,640.283 C1591.6,640.4 1592.6,640.5 1593.65,640.671 C1594.7,640.8 1595.7,640.9 1596.71,641.059 C1597.7,641.2 1598.7,641.3 1599.76,641.447 C1600.8,641.6 1601.8,641.7 1602.82,641.835 C1603.8,642.0 1604.9,642.1 1605.88,642.224 C1606.9,642.4 1607.9,642.5 1608.94,642.633 C1610.0,642.8 1611.0,642.9 1611.99,643.162 C1613.0,643.4 1614.0,643.6 1615.01,643.913 C1616.0,644.2 1617.0,644.5 1618.03,644.785 C1619.0,645.1 1620.0,645.4 1621.05,645.677 C1622.1,646.0 1623.1,646.3 1624.06,646.569 C1625.1,646.9 1626.1,647.2 1627.08,647.464 C1628.1,647.8 1629.1,648.1 1630.09,648.382 C1631.1,648.7 1632.1,649.0 1633.09,649.382 C1634.1,649.7 1635.1,650.1 1636.08,650.464 C1637.1,650.8 1638.1,651.2 1639.06,651.569 C1640.1,651.9 1641.1,652.3 1642.05,652.677 C1643.0,653.0 1644.0,653.4 1645.03,653.785 C1646.0,654.2 1647.0,654.5 1648.01,654.908 C1649.0,655.3 1650.0,655.7 1650.94,656.121 C1651.9,656.6 1652.8,657.0 1653.79,657.501 C1654.7,658.0 1655.7,658.5 1656.6,658.972 C1657.5,659.5 1658.5,660.0 1659.4,660.457 C1660.3,661.0 1661.3,661.4 1662.2,661.943 C1663.1,662.4 1664.1,662.9 1665,663.429 C1665.9,663.9 1666.9,664.4 1667.79,664.917 C1668.7,665.4 1669.6,665.9 1670.53,666.42 C1671.4,666.9 1672.3,667.4 1673.18,667.949 C1674.1,668.5 1674.9,669.0 1675.77,669.493 C1676.6,670.0 1677.5,670.5 1678.36,671.04 C1679.2,671.6 1680.1,672.1 1680.95,672.587 C1681.8,673.1 1682.7,673.6 1683.53,674.133 C1684.4,674.6 1685.3,675.2 1686.12,675.686 C1687.0,676.2 1687.8,676.7 1688.68,677.305 C1689.5,677.9 1690.3,678.5 1691.15,679.151 C1692.0,679.8 1692.8,680.5 1693.54,681.224 C1694.3,681.9 1695.1,682.6 1695.91,683.364 C1696.7,684.1 1697.5,684.8 1698.27,685.509 C1699.1,686.2 1699.8,686.9 1700.65,687.642 C1701.4,688.3 1702.2,689.0 1703.08,689.702 C1703.9,690.4 1704.8,691.0 1705.61,691.627 C1706.5,692.3 1707.3,692.9 1708.2,693.48 C1709.1,694.1 1709.9,694.7 1710.8,695.32 C1711.7,695.9 1712.5,696.6 1713.41,697.145 C1714.3,697.7 1715.2,698.3 1716.07,698.882 C1717.0,699.4 1717.9,699.9 1718.82,700.456 C1719.7,701.0 1720.7,701.4 1721.63,701.942 C1722.6,702.4 1723.5,702.9 1724.44,703.414 C1725.4,703.9 1726.3,704.4 1727.26,704.886 C1728.2,705.4 1729.1,705.9 1730.07,706.357 C1731.0,706.8 1731.9,707.3 1732.88,707.829 C1733.8,708.3 1734.8,708.8 1735.68,709.305 C1736.6,709.8 1737.5,710.3 1738.45,710.786 C1739.4,711.3 1740.3,711.8 1741.21,712.271 C1742.1,712.8 1743.1,713.3 1743.97,713.757 C1744.9,714.3 1745.8,714.7 1746.73,715.243 C1747.6,715.7 1748.6,716.2 1749.49,716.729 C1750.4,717.2 1751.3,717.7 1752.24,718.233 C1753.2,718.7 1754.1,719.2 1755.01,719.828 C1755.9,720.4 1757.3,721.4 1757.8,721.7" fill="none" stroke="#5e56f6" stroke-width="2.0" stroke-linejoin="round" stroke-linecap="round"/>
<path d="M1341.5,689 C1341.7,688.6 1342.4,687.2 1342.92,686.333 C1343.4,685.4 1343.9,684.6 1344.33,683.667 C1344.8,682.8 1345.3,681.9 1345.75,681 C1346.2,680.1 1346.7,679.2 1347.17,678.333 C1347.6,677.4 1348.1,676.6 1348.58,675.664 C1349.1,674.8 1349.5,673.9 1350.01,672.981 C1350.5,672.1 1351.0,671.2 1351.46,670.27 C1351.9,669.4 1352.4,668.5 1352.91,667.545 C1353.4,666.6 1353.9,665.7 1354.36,664.818 C1354.8,663.9 1355.3,663.0 1355.82,662.09 C1356.3,661.2 1356.8,660.3 1357.29,659.354 C1357.8,658.4 1358.3,657.5 1358.82,656.59 C1359.3,655.7 1359.9,654.7 1360.4,653.799 C1360.9,652.9 1361.5,651.9 1362,651 C1362.5,650.1 1363.1,649.1 1363.6,648.201 C1364.1,647.3 1364.7,646.3 1365.18,645.41 C1365.7,644.5 1366.2,643.6 1366.71,642.646 C1367.2,641.7 1367.7,640.8 1368.18,639.91 C1368.7,639.0 1369.2,638.1 1369.64,637.182 C1370.1,636.3 1370.6,635.4 1371.09,634.455 C1371.6,633.5 1372.1,632.6 1372.57,631.73 C1373.1,630.8 1373.6,629.9 1374.18,629.019 C1374.8,628.1 1375.4,627.2 1376.02,626.336 C1376.7,625.4 1377.3,624.6 1377.97,623.658 C1378.6,622.8 1379.2,621.9 1379.79,620.929 C1380.3,620.0 1380.8,619.1 1381.31,618.102 C1381.8,617.2 1382.2,616.2 1382.67,615.222 C1383.1,614.3 1383.6,613.3 1384,612.336 C1384.5,611.4 1384.9,610.4 1385.38,609.486 C1385.9,608.6 1386.4,607.6 1386.91,606.756 C1387.4,605.9 1388.0,605.0 1388.58,604.146 C1389.1,603.3 1389.7,602.4 1390.29,601.571 C1390.9,600.7 1391.4,599.9 1392,599 C1392.6,598.1 1393.1,597.3 1393.71,596.429 C1394.3,595.6 1394.9,594.7 1395.43,593.86 C1396.0,593.0 1396.6,592.2 1397.18,591.328 C1397.8,590.5 1398.4,589.7 1399.04,588.917 C1399.7,588.1 1400.3,587.4 1401,586.628 C1401.7,585.9 1402.3,585.1 1403,584.375 C1403.7,583.6 1404.3,582.9 1405,582.125 C1405.7,581.4 1406.3,580.6 1407,579.875 C1407.7,579.1 1408.3,578.4 1409,577.625 C1409.7,576.9 1410.3,576.1 1411,575.375 C1411.7,574.6 1412.3,573.9 1413,573.125 C1413.7,572.4 1414.3,571.6 1415,570.875 C1415.7,570.1 1416.3,569.4 1417,568.625 C1417.7,567.9 1418.3,567.1 1419,566.375 C1419.7,565.6 1420.3,564.9 1421,564.125 C1421.7,563.4 1422.3,562.6 1423,561.875 C1423.7,561.1 1424.3,560.4 1425,559.625 C1425.7,558.9 1426.3,558.1 1427,557.373 C1427.7,556.6 1428.3,555.9 1428.98,555.097 C1429.6,554.3 1430.3,553.5 1430.9,552.741 C1431.5,551.9 1432.1,551.1 1432.77,550.306 C1433.4,549.5 1434.0,548.7 1434.62,547.846 C1435.2,547.0 1435.8,546.2 1436.46,545.385 C1437.1,544.6 1437.7,543.7 1438.31,542.923 C1438.9,542.1 1439.5,541.3 1440.16,540.47 C1440.8,539.7 1441.4,538.9 1442.05,538.068 C1442.7,537.3 1443.3,536.5 1444.01,535.759 C1444.7,535.0 1445.3,534.3 1446,533.5 C1446.7,532.7 1447.3,532.0 1448,531.25 C1448.7,530.5 1449.3,529.7 1450,529 C1450.7,528.2 1451.3,527.5 1452,526.75 C1452.7,526.0 1453.3,525.2 1454,524.5 C1454.7,523.7 1455.3,523.0 1456,522.25 C1456.7,521.5 1457.3,520.8 1458,520 C1458.7,519.2 1459.3,518.5 1460,517.75 C1460.7,517.0 1461.3,516.2 1462,515.5 C1462.7,514.7 1463.3,514.0 1464,513.25 C1464.7,512.5 1465.3,511.8 1466,511 C1466.7,510.2 1467.3,509.5 1468,508.75 C1468.7,508.0 1469.3,507.2 1470,506.5 C1470.7,505.8 1471.3,505.0 1472.02,504.26 C1472.7,503.5 1473.4,502.8 1474.15,502.08 C1474.9,501.4 1475.7,500.7 1476.48,500.01 C1477.3,499.3 1478.1,498.7 1478.92,498 C1479.7,497.3 1480.6,496.7 1481.38,496 C1482.2,495.3 1483.0,494.7 1483.85,494 C1484.7,493.3 1485.5,492.7 1486.31,492.003 C1487.1,491.3 1488.0,490.7 1488.8,490.035 C1489.6,489.4 1490.5,488.8 1491.36,488.168 C1492.2,487.6 1493.1,487.0 1494,486.403 C1494.9,485.8 1495.8,485.2 1496.67,484.667 C1497.6,484.1 1498.4,483.5 1499.33,482.933 C1500.2,482.4 1501.1,481.8 1502,481.2 C1502.9,480.6 1503.8,480.0 1504.67,479.467 C1505.6,478.9 1506.4,478.3 1507.32,477.732 C1508.2,477.2 1509.1,476.6 1509.93,475.986 C1510.8,475.4 1511.6,474.8 1512.44,474.22 C1513.3,473.6 1514.1,473.0 1514.89,472.444 C1515.7,471.9 1516.5,471.3 1517.33,470.667 C1518.1,470.1 1519.0,469.5 1519.78,468.889 C1520.6,468.3 1521.4,467.7 1522.22,467.111 C1523.0,466.5 1523.9,465.9 1524.67,465.333 C1525.5,464.7 1526.3,464.1 1527.11,463.555 C1527.9,463.0 1528.7,462.4 1529.55,461.769 C1530.4,461.2 1531.2,460.6 1531.95,459.929 C1532.7,459.3 1533.5,458.6 1534.28,457.991 C1535.0,457.3 1535.8,456.7 1536.57,456 C1537.3,455.3 1538.1,454.7 1538.86,454 C1539.6,453.3 1540.4,452.7 1541.14,452 C1541.9,451.3 1542.7,450.7 1543.43,450 C1544.2,449.3 1545.0,448.7 1545.72,447.992 C1546.5,447.3 1547.3,446.6 1548.04,445.936 C1548.8,445.2 1549.6,444.5 1550.4,443.792 C1551.2,443.1 1552.0,442.3 1552.8,441.6 C1553.6,440.9 1554.4,440.1 1555.2,439.4 C1556.0,438.7 1556.8,437.9 1557.58,437.192 C1558.4,436.4 1559.1,435.7 1559.87,434.936 C1560.6,434.2 1561.3,433.4 1561.98,432.592 C1562.7,431.8 1563.3,431.0 1564,430.2 C1564.7,429.4 1565.3,428.6 1566,427.8 C1566.7,427.0 1567.3,426.2 1568,425.4 C1568.7,424.6 1569.3,423.8 1570,423 C1570.7,422.2 1571.3,421.4 1572,420.6 C1572.7,419.8 1573.3,419.0 1574.01,418.2 C1574.7,417.4 1575.4,416.6 1576.06,415.8 C1576.8,415.0 1577.5,414.2 1578.15,413.398 C1578.9,412.6 1579.6,411.8 1580.26,410.974 C1581.0,410.2 1581.7,409.3 1582.39,408.474 C1583.1,407.6 1583.8,406.8 1584.55,405.898 C1585.3,405.0 1586.0,404.2 1586.65,403.3 C1587.3,402.4 1587.9,401.6 1588.54,400.7 C1589.1,399.8 1589.7,399.0 1590.23,398.1 C1590.8,397.2 1591.3,396.4 1591.86,395.5 C1592.4,394.6 1592.9,393.8 1593.47,392.896 C1594.0,392.0 1594.5,391.2 1595.02,390.282 C1595.5,389.4 1596.0,388.5 1596.53,387.656 C1597.0,386.8 1597.5,385.9 1598.02,385.012 C1598.5,384.1 1599.0,383.2 1599.58,382.27 C1600.1,381.3 1600.7,380.3 1601.24,379.35 C1601.8,378.4 1602.4,377.3 1602.96,376.335 C1603.5,375.3 1604.1,374.3 1604.63,373.32 C1605.2,372.3 1605.7,371.3 1606.21,370.331 C1606.7,369.3 1607.2,368.3 1607.73,367.357 C1608.2,366.4 1608.7,365.4 1609.24,364.386 C1609.7,363.4 1610.2,362.4 1610.74,361.414 C1611.2,360.4 1611.7,359.4 1612.23,358.443 C1612.7,357.5 1613.2,356.5 1613.73,355.487 C1614.2,354.5 1614.8,353.5 1615.32,352.619 C1615.9,351.7 1616.5,350.8 1617.07,349.915 C1617.7,349.0 1618.3,348.2 1618.92,347.3 C1619.5,346.4 1620.2,345.6 1620.82,344.7 C1621.5,343.8 1622.2,343.0 1622.86,342.1 C1623.6,341.2 1624.3,340.4 1625.05,339.5 C1625.8,338.6 1626.5,337.8 1627.26,336.9 C1628.0,336.0 1628.7,335.2 1629.38,334.3 C1630.1,333.4 1630.7,332.6 1631.34,331.7 C1632.0,330.8 1632.6,330.0 1633.21,329.1 C1633.8,328.2 1634.5,327.4 1635.07,326.496 C1635.7,325.6 1636.3,324.8 1636.93,323.882 C1637.5,323.0 1638.2,322.1 1638.79,321.257 C1639.4,320.4 1640.0,319.5 1640.64,318.63 C1641.3,317.8 1641.9,316.9 1642.46,316.009 C1643.1,315.1 1643.6,314.3 1644.23,313.401 C1644.8,312.5 1645.4,311.7 1645.97,310.8 C1646.5,309.9 1647.1,309.1 1647.7,308.2 C1648.3,307.3 1648.9,306.5 1649.43,305.599 C1650.0,304.7 1650.6,303.9 1651.17,302.982 C1651.7,302.1 1652.3,301.2 1652.9,300.261 C1653.5,299.3 1654.1,298.3 1654.63,297.35 C1655.2,296.4 1655.8,295.3 1656.36,294.354 C1656.9,293.4 1657.5,292.4 1658.07,291.468 C1658.6,290.5 1659.2,289.7 1659.74,288.81 C1660.3,287.9 1660.8,287.1 1661.39,286.278 C1661.9,285.4 1662.5,284.6 1663.04,283.765 C1663.6,282.9 1664.1,282.1 1664.72,281.231 C1665.3,280.4 1665.9,279.5 1666.52,278.625 C1667.1,277.7 1667.8,276.8 1668.43,275.948 C1669.1,275.1 1669.7,274.2 1670.37,273.25 C1671.0,272.3 1671.7,271.4 1672.32,270.547 C1673.0,269.6 1673.6,268.7 1674.26,267.834 C1674.9,266.9 1675.5,266.0 1676.19,265.112 C1676.8,264.2 1677.5,263.3 1678.11,262.388 C1678.7,261.5 1679.4,260.6 1680.02,259.671 C1680.6,258.8 1681.3,257.9 1681.87,256.98 C1682.5,256.1 1683.1,255.2 1683.66,254.315 C1684.3,253.4 1684.8,252.5 1685.44,251.654 C1686.0,250.8 1686.6,249.9 1687.26,248.978 C1687.9,248.1 1688.5,247.2 1689.16,246.272 C1689.8,245.4 1690.5,244.5 1691.1,243.55 C1691.7,242.6 1692.4,241.7 1693.03,240.825 C1693.7,239.9 1694.3,239.0 1694.87,238.1 C1695.5,237.2 1696.0,236.3 1696.53,235.375 C1697.1,234.5 1697.6,233.6 1698.1,232.65 C1698.6,231.7 1699.1,230.8 1699.67,229.926 C1700.2,229.0 1700.7,228.1 1701.33,227.208 C1701.9,226.3 1702.5,225.4 1703.17,224.501 C1703.8,223.6 1704.5,222.7 1705.1,221.8 C1705.7,220.9 1706.4,220.0 1707.04,219.098 C1707.7,218.2 1708.3,217.3 1708.92,216.382 C1709.5,215.5 1710.1,214.6 1710.7,213.642 C1711.3,212.7 1711.9,211.8 1712.42,210.889 C1713.0,210.0 1713.6,209.1 1714.13,208.133 C1714.7,207.2 1715.3,206.3 1715.8,205.378 C1716.3,204.5 1716.9,203.5 1717.36,202.622 C1717.9,201.7 1718.3,200.8 1718.8,199.867 C1719.3,198.9 1719.7,198.0 1720.2,197.111 C1720.7,196.2 1721.1,195.3 1721.59,194.352 C1722.1,193.4 1722.5,192.5 1722.96,191.574 C1723.4,190.6 1723.8,189.7 1724.27,188.76 C1724.7,187.8 1725.1,186.9 1725.55,185.927 C1726.0,185.0 1726.4,184.0 1726.82,183.091 C1727.2,182.1 1727.7,181.2 1728.09,180.254 C1728.5,179.3 1728.9,178.4 1729.36,177.413 C1729.8,176.5 1730.2,175.5 1730.62,174.557 C1731.0,173.6 1731.5,172.6 1731.87,171.687 C1732.3,170.7 1732.7,169.8 1733.13,168.812 C1733.5,167.9 1734.0,166.9 1734.38,165.938 C1734.8,165.0 1735.2,164.0 1735.62,163.063 C1736.0,162.1 1736.5,161.1 1736.88,160.187 C1737.3,159.2 1737.7,158.3 1738.12,157.312 C1738.5,156.4 1739.1,155.2 1739.38,154.437 C1739.7,153.7 1739.9,153.2 1740,153" fill="none" stroke="#5e56f6" stroke-width="2.0" stroke-linejoin="round" stroke-linecap="round"/>
<text transform="translate(110.64,733.00) scale(0.93,1)" font-size="57">0.0</text>
<text transform="translate(110.64,631.25) scale(0.93,1)" font-size="57">0.5</text>
<text transform="translate(110.64,529.50) scale(0.93,1)" font-size="57">1.0</text>
<g transform="translate(110.64,529.50) scale(0.93,1)" fill="#fff"><rect x="3.70" y="-5.24" width="10.32" height="6.04"/><rect x="19.44" y="-5.24" width="9.92" height="6.04"/></g>
<text transform="translate(110.64,427.75) scale(0.93,1)" font-size="57">1.5</text>
<g transform="translate(110.64,427.75) scale(0.93,1)" fill="#fff"><rect x="3.70" y="-5.24" width="10.32" height="6.04"/><rect x="19.44" y="-5.24" width="9.92" height="6.04"/></g>
<text transform="translate(110.64,326.00) scale(0.93,1)" font-size="57">2.0</text>
<text transform="translate(110.64,224.25) scale(0.93,1)" font-size="57">2.5</text>
<text transform="translate(110.64,122.50) scale(0.93,1)" font-size="57">3.0</text>
<text transform="translate(1244.24,737.80) scale(0.93,1)" font-size="57">0.0</text>
<text transform="translate(1244.24,642.65) scale(0.93,1)" font-size="57">0.5</text>
<text transform="translate(1244.24,547.50) scale(0.93,1)" font-size="57">1.0</text>
<g transform="translate(1244.24,547.50) scale(0.93,1)" fill="#fff"><rect x="3.70" y="-5.24" width="10.32" height="6.04"/><rect x="19.44" y="-5.24" width="9.92" height="6.04"/></g>
<text transform="translate(1244.24,452.35) scale(0.93,1)" font-size="57">1.5</text>
<g transform="translate(1244.24,452.35) scale(0.93,1)" fill="#fff"><rect x="3.70" y="-5.24" width="10.32" height="6.04"/><rect x="19.44" y="-5.24" width="9.92" height="6.04"/></g>
<text transform="translate(1244.24,357.20) scale(0.93,1)" font-size="57">2.0</text>
<text transform="translate(1244.24,262.05) scale(0.93,1)" font-size="57">2.5</text>
<text transform="translate(1244.24,166.90) scale(0.93,1)" font-size="57">3.0</text>
<text transform="translate(1244.24,71.75) scale(0.93,1)" font-size="57">3.5</text>
<text transform="translate(190.24,840.00) scale(0.9,1)" font-size="57">0</text>
<text transform="translate(338.26,840.00) scale(0.9,1)" font-size="57">300</text>
<text transform="translate(514.76,840.00) scale(0.9,1)" font-size="57">600</text>
<text transform="translate(691.26,840.00) scale(0.9,1)" font-size="57">900</text>
<text transform="translate(855.03,840.00) scale(0.9,1)" font-size="57">1200</text>
<g transform="translate(855.03,840.00) scale(0.9,1)" fill="#fff"><rect x="3.70" y="-5.24" width="10.32" height="6.04"/><rect x="19.44" y="-5.24" width="9.92" height="6.04"/></g>
<text transform="translate(1031.53,840.00) scale(0.9,1)" font-size="57">1500</text>
<g transform="translate(1031.53,840.00) scale(0.9,1)" fill="#fff"><rect x="3.70" y="-5.24" width="10.32" height="6.04"/><rect x="19.44" y="-5.24" width="9.92" height="6.04"/></g>
<text transform="translate(1325.04,840.00) scale(0.9,1)" font-size="57">0</text>
<text transform="translate(1516.99,840.00) scale(0.9,1)" font-size="57">300</text>
<text transform="translate(1737.41,840.00) scale(0.9,1)" font-size="57">600</text>
<text transform="translate(1957.84,840.00) scale(0.9,1)" font-size="57">900</text>
<text transform="translate(2165.53,840.00) scale(0.9,1)" font-size="57">1200</text>
<g transform="translate(2165.53,840.00) scale(0.9,1)" fill="#fff"><rect x="3.70" y="-5.24" width="10.32" height="6.04"/><rect x="19.44" y="-5.24" width="9.92" height="6.04"/></g>
<text transform="translate(251.68,144.32) scale(0.897,1)" font-size="58">(a)</text>
<text transform="translate(1387.23,143.52) scale(0.91,1)" font-size="58">(b)</text>
<text transform="translate(526.20,98.70) scale(0.926,1)" font-size="40.5">3rd</text>
<text transform="translate(593.95,101.00) scale(0.965,1)" font-size="40.5">2nd</text>
<text transform="translate(665.95,98.70) scale(0.94,1)" font-size="40.5">1st</text>
<g transform="translate(665.95,98.70) scale(0.94,1)" fill="#fff"><rect x="2.63" y="-3.73" width="7.33" height="4.29"/><rect x="13.81" y="-3.73" width="7.05" height="4.29"/></g>
<text transform="translate(607.30,755.60) scale(0.926,1)" font-size="40.5">3rd</text>
<text transform="translate(680.75,755.60) scale(0.965,1)" font-size="40.5">2nd</text>
<text transform="translate(900.95,756.10) scale(0.94,1)" font-size="40.5">1st</text>
<g transform="translate(900.95,756.10) scale(0.94,1)" fill="#fff"><rect x="2.63" y="-3.73" width="7.33" height="4.29"/><rect x="13.81" y="-3.73" width="7.05" height="4.29"/></g>
<text transform="translate(1730.65,136.60) scale(0.965,1)" font-size="40.5">2nd</text>
<text transform="translate(1661.00,183.20) scale(0.926,1)" font-size="40.5">3rd</text>
<text transform="translate(1789.95,179.60) scale(0.94,1)" font-size="40.5">1st</text>
<g transform="translate(1789.95,179.60) scale(0.94,1)" fill="#fff"><rect x="2.63" y="-3.73" width="7.33" height="4.29"/><rect x="13.81" y="-3.73" width="7.05" height="4.29"/></g>
<text transform="translate(1707.30,755.60) scale(0.926,1)" font-size="40.5">3rd</text>
<text transform="translate(1783.05,755.60) scale(0.965,1)" font-size="40.5">2nd</text>
<text transform="translate(2055.45,758.10) scale(0.94,1)" font-size="40.5">1st</text>
<g transform="translate(2055.45,758.10) scale(0.94,1)" fill="#fff"><rect x="2.63" y="-3.73" width="7.33" height="4.29"/><rect x="13.81" y="-3.73" width="7.05" height="4.29"/></g>
<text transform="translate(332.05,949.50) scale(0.893,1)" font-size="57">Specific capability (mAh g</text>
<text transform="translate(910.72,923.10) scale(0.81,1)" font-size="52">-</text>
<text transform="translate(924.32,919.00) scale(0.79,1)" font-size="37.7">1</text>
<g transform="translate(924.32,919.00) scale(0.79,1)" fill="#fff"><rect x="2.45" y="-3.47" width="6.82" height="4.00"/><rect x="12.86" y="-3.47" width="6.56" height="4.00"/></g>
<text transform="translate(943.32,949.50) scale(0.84,1)" font-size="57">)</text>
<text transform="translate(1466.25,949.50) scale(0.893,1)" font-size="57">Specific capability (mAh g</text>
<text transform="translate(2046.12,923.10) scale(0.81,1)" font-size="52">-</text>
<text transform="translate(2059.72,919.00) scale(0.79,1)" font-size="37.7">1</text>
<g transform="translate(2059.72,919.00) scale(0.79,1)" fill="#fff"><rect x="2.45" y="-3.47" width="6.82" height="4.00"/><rect x="12.86" y="-3.47" width="6.56" height="4.00"/></g>
<text transform="translate(2079.12,949.50) scale(0.84,1)" font-size="57">)</text>
<text transform="translate(79.60,736.26) rotate(-90) scale(0.945,1)" font-size="61.7">Potential (V <tspan font-style="italic">vs.</tspan> Li/Li</text>
<text transform="translate(51.26,222.84) rotate(-90)" font-size="36">+</text>
<text transform="translate(79.60,199.20) rotate(-90) scale(0.945,1)" font-size="58">)</text>
<text transform="translate(1213.20,736.26) rotate(-90) scale(0.945,1)" font-size="61.7">Potential (V <tspan font-style="italic">vs.</tspan> Li/Li</text>
<text transform="translate(1185.46,222.84) rotate(-90)" font-size="36">+</text>
<text transform="translate(1213.20,199.20) rotate(-90) scale(0.945,1)" font-size="58">)</text>
</svg>
</body></html>
